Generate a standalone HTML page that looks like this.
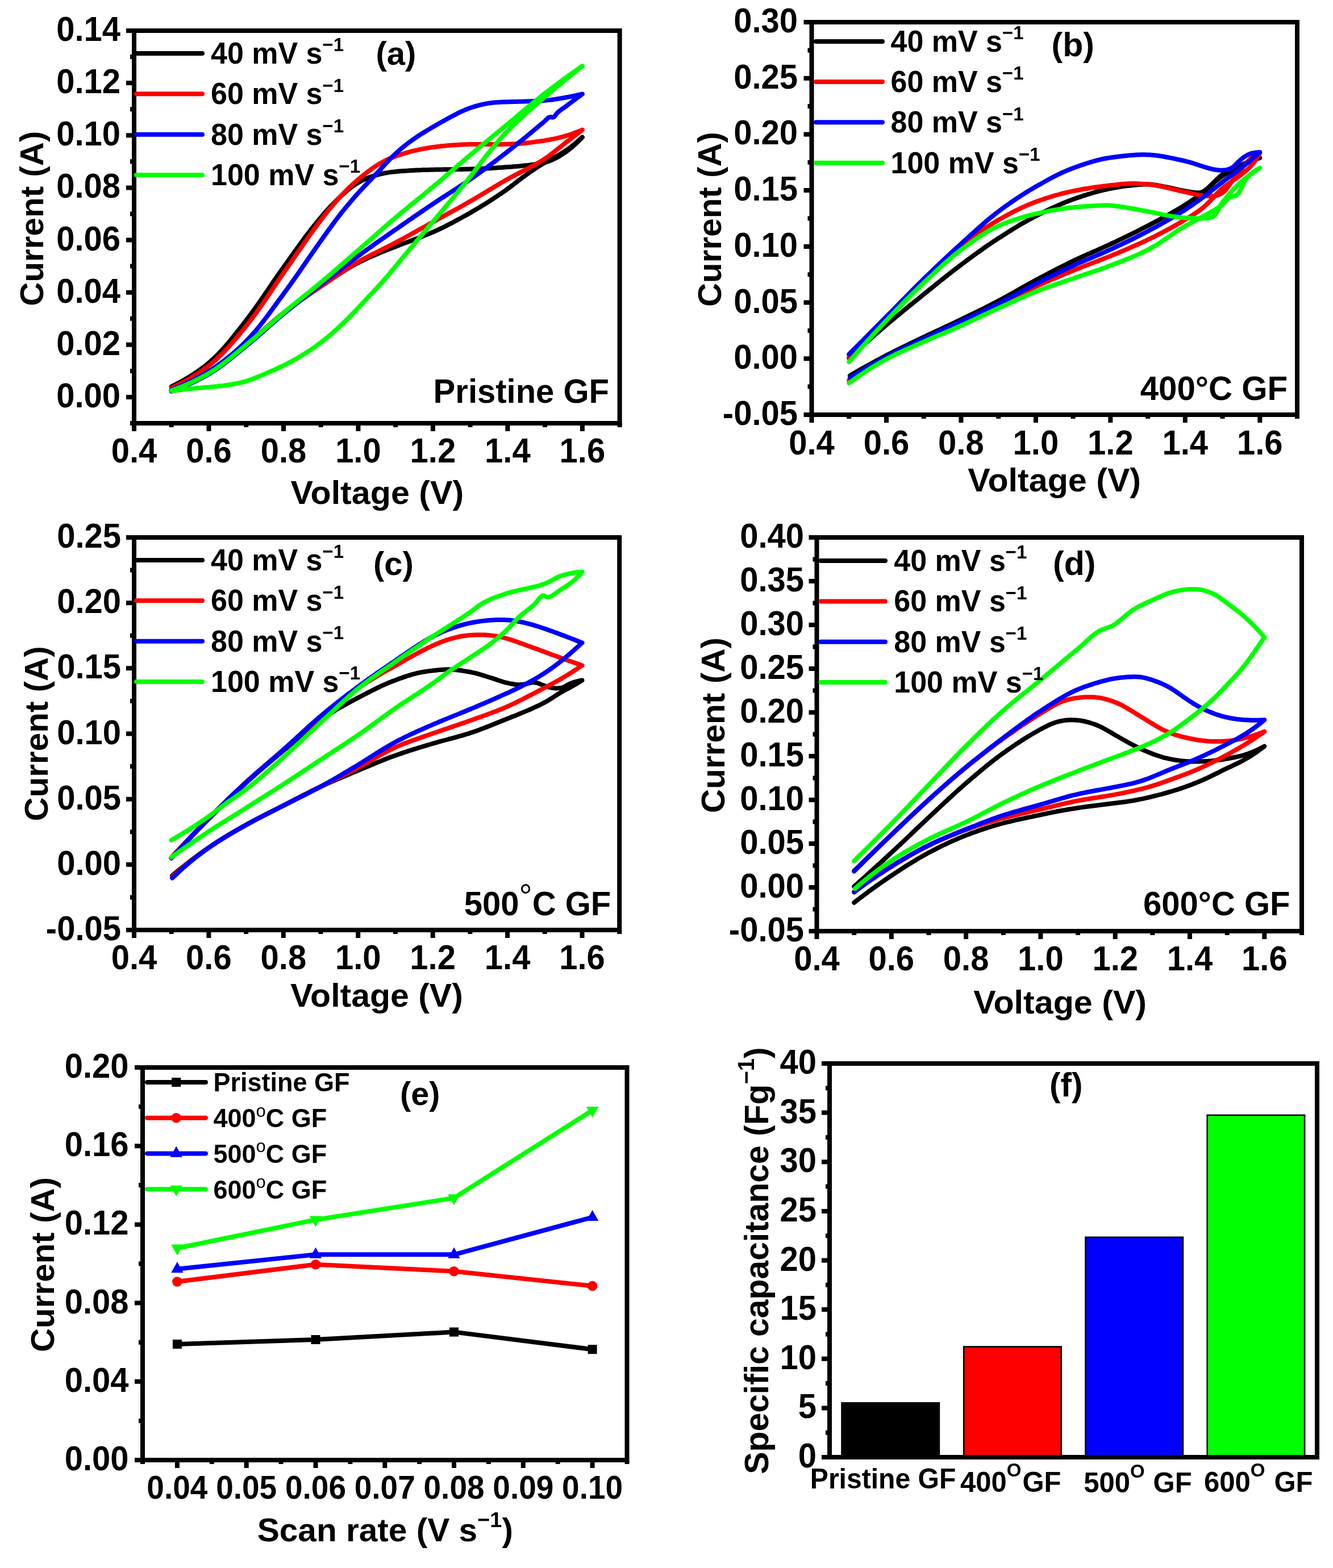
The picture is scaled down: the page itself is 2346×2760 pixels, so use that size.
<!DOCTYPE html>
<html><head><meta charset="utf-8"><title>Figure</title><style>html,body{margin:0;padding:0;background:#fff}svg{display:block;width:100vw;max-width:2346px;height:auto}</style></head><body>
<svg width="2346" height="2760" viewBox="0 0 2346 2760" font-family='"Liberation Sans", sans-serif' font-weight="bold" fill="#000">
<rect width="2346" height="2760" fill="#fff"/>
<polyline points="301.7,680.5 305.4,678.6 309,676.8 312.7,674.9 316.3,673 319.9,671 323.4,669 326.9,667 330.4,664.9 333.9,662.8 337.3,660.7 340.7,658.5 344,656.3 347.3,654.1 350.6,651.8 353.8,649.4 356.9,647.1 360.1,644.7 363.1,642.2 366.2,639.7 369.2,637.2 372.1,634.6 375,632 377.9,629.3 380.7,626.5 383.6,623.7 386.3,620.9 389.1,618 391.8,615 394.5,612 397.1,609 399.8,605.9 402.4,602.8 405,599.7 407.5,596.5 410.1,593.4 412.6,590.2 415.2,587 417.7,583.8 420.2,580.6 422.7,577.5 425.2,574.3 427.7,571.1 430.1,567.9 432.6,564.7 435,561.5 437.4,558.3 439.8,555.1 442.2,551.9 444.6,548.7 447,545.5 449.3,542.2 451.6,539 454,535.7 456.3,532.4 458.6,529.1 460.8,525.8 463.1,522.5 465.4,519.2 467.6,515.8 469.9,512.5 472.2,509.2 474.4,505.9 476.7,502.5 478.9,499.2 481.2,495.9 483.5,492.6 485.8,489.3 488,486 490.3,482.7 492.6,479.4 495,476.1 497.3,472.8 499.6,469.6 502,466.3 504.3,463 506.6,459.8 509,456.5 511.3,453.2 513.6,450 516,446.7 518.3,443.4 520.7,440.2 523,436.9 525.4,433.6 527.7,430.4 530.1,427.1 532.5,423.9 534.9,420.6 537.2,417.4 539.6,414.2 542.1,411 544.5,407.8 546.9,404.6 549.4,401.5 551.9,398.3 554.4,395.2 556.9,392.1 559.4,389 562,385.9 564.5,382.8 567.1,379.8 569.8,376.7 572.4,373.7 575.1,370.7 577.8,367.8 580.5,364.8 583.3,361.9 586.1,359 588.9,356.1 591.7,353.3 594.6,350.5 597.5,347.7 600.4,344.9 603.4,342.2 606.4,339.5 609.4,336.8 612.5,334.2 615.6,331.7 618.8,329.2 622,326.9 625.3,324.6 628.7,322.5 632.1,320.5 635.6,318.6 639.1,316.8 642.8,315.1 646.5,313.5 650.2,312.1 654,310.7 657.8,309.5 661.6,308.3 665.5,307.3 669.4,306.4 673.3,305.5 677.2,304.7 681.2,304.1 685.1,303.4 689.1,302.9 693.1,302.4 697.1,302 701.1,301.6 705.1,301.3 709.1,301 713.1,300.7 717.1,300.5 721.1,300.2 725.1,300 729.1,299.8 733.1,299.6 737.1,299.4 741.1,299.3 745.2,299.1 749.2,299 753.2,298.9 757.2,298.8 761.2,298.7 765.2,298.6 769.2,298.5 773.3,298.4 777.3,298.4 781.3,298.3 785.3,298.3 789.3,298.2 793.3,298.2 797.3,298.1 801.3,298.1 805.4,298 809.4,298 813.4,297.9 817.4,297.8 821.4,297.8 825.4,297.7 829.4,297.6 833.4,297.5 837.4,297.3 841.5,297.2 845.5,297 849.5,296.8 853.5,296.6 857.5,296.4 861.5,296.2 865.5,295.9 869.5,295.7 873.5,295.4 877.5,295.1 881.5,294.9 885.5,294.6 889.5,294.3 893.6,294 897.6,293.7 901.6,293.4 905.6,293 909.7,292.7 913.7,292.4 917.8,292 921.8,291.6 925.8,291.2 929.9,290.8 933.8,290.3 937.8,289.8 941.8,289.3 945.7,288.7 949.6,288 953.4,287.2 957.3,286.3 961.1,285.3 964.8,284.1 968.5,282.7 972.2,281.2 975.8,279.5 979.4,277.7 982.9,275.7 986.4,273.7 989.8,271.5 993.1,269.3 996.4,267 999.6,264.7 1002.8,262.2 1005.9,259.7 1008.9,257.1 1011.9,254.4 1014.8,251.6 1017.7,248.8 1020.6,245.9 1023.4,243 1024.9,241.5 1021.9,244.2 1018.9,246.9 1015.8,249.6 1012.8,252.2 1009.7,254.8 1006.6,257.3 1003.4,259.7 1000.2,262.1 996.9,264.4 993.6,266.6 990.2,268.8 986.8,270.8 983.4,272.8 979.9,274.8 976.3,276.7 972.8,278.6 969.3,280.5 965.7,282.4 962.2,284.3 958.7,286.3 955.3,288.3 951.8,290.4 948.4,292.5 945,294.7 941.7,296.9 938.4,299.1 935,301.4 931.7,303.7 928.5,306 925.2,308.4 922,310.7 918.8,313.2 915.6,315.6 912.4,318 909.2,320.5 906.1,322.9 902.9,325.4 899.7,327.8 896.5,330.2 893.2,332.6 890,334.9 886.7,337.2 883.4,339.5 880.1,341.8 876.8,344 873.4,346.3 870.1,348.5 866.7,350.7 863.3,352.8 860,355 856.6,357.2 853.2,359.3 849.7,361.4 846.3,363.5 842.9,365.6 839.4,367.6 836,369.7 832.5,371.7 829.1,373.7 825.6,375.7 822.1,377.7 818.6,379.7 815.1,381.6 811.6,383.6 808.1,385.5 804.5,387.4 801,389.3 797.5,391.2 793.9,393.1 790.3,394.9 786.7,396.8 783.2,398.6 779.6,400.3 775.9,402.1 772.3,403.8 768.7,405.5 765,407.1 761.4,408.8 757.7,410.3 754,411.9 750.3,413.4 746.6,414.9 742.9,416.4 739.1,417.8 735.4,419.3 731.6,420.7 727.9,422.1 724.1,423.5 720.3,424.9 716.6,426.3 712.8,427.7 709,429.1 705.3,430.6 701.5,432 697.8,433.5 694.1,434.9 690.3,436.4 686.6,437.9 682.9,439.4 679.1,440.9 675.4,442.4 671.6,443.9 667.9,445.4 664.2,447 660.5,448.5 656.8,450.1 653.1,451.7 649.4,453.3 645.8,454.9 642.2,456.6 638.6,458.3 635,460.1 631.4,461.9 627.9,463.8 624.4,465.6 620.9,467.6 617.4,469.6 614,471.6 610.6,473.7 607.2,475.8 603.8,477.9 600.4,480.1 597,482.3 593.6,484.5 590.3,486.7 586.9,489 583.6,491.2 580.3,493.5 576.9,495.7 573.6,498 570.3,500.3 567,502.5 563.6,504.8 560.3,507 557,509.3 553.7,511.5 550.3,513.8 547,516 543.7,518.3 540.4,520.6 537.1,522.9 533.8,525.2 530.5,527.5 527.2,529.8 523.9,532.1 520.7,534.5 517.4,536.8 514.2,539.2 511,541.6 507.8,544 504.6,546.4 501.4,548.9 498.3,551.3 495.1,553.8 492,556.3 488.9,558.9 485.9,561.5 482.8,564 479.8,566.7 476.7,569.3 473.7,571.9 470.7,574.6 467.7,577.3 464.7,579.9 461.7,582.6 458.7,585.3 455.7,587.9 452.7,590.6 449.6,593.2 446.6,595.9 443.6,598.5 440.5,601.1 437.4,603.7 434.4,606.3 431.3,608.8 428.2,611.4 425.1,614 422,616.6 418.9,619.1 415.7,621.7 412.6,624.3 409.5,626.9 406.4,629.4 403.2,631.9 400.1,634.5 396.9,636.9 393.7,639.4 390.5,641.8 387.3,644.2 384,646.5 380.7,648.7 377.4,651 374.1,653.1 370.7,655.2 367.3,657.2 363.9,659.2 360.5,661.2 357,663.1 353.5,665 349.9,666.8 346.4,668.6 342.8,670.4 339.2,672.1 335.5,673.8 331.8,675.4 328.2,677 324.4,678.6 320.7,680.2 316.9,681.7 313.2,683.1 309.4,684.6 305.6,686 301.7,687.4" fill="none" stroke="#000000" stroke-width="8" stroke-linejoin="round" stroke-linecap="round"/>
<polyline points="301.7,682.8 305.4,681.1 309.1,679.3 312.8,677.5 316.5,675.7 320.1,673.8 323.7,672 327.3,670 330.9,668.1 334.4,666.1 337.9,664 341.3,661.9 344.7,659.8 348,657.6 351.4,655.4 354.6,653.2 357.9,650.9 361.1,648.6 364.2,646.3 367.3,643.9 370.4,641.4 373.4,638.9 376.4,636.3 379.4,633.7 382.3,631 385.2,628.3 388.1,625.5 391,622.7 393.8,619.8 396.6,616.9 399.3,613.9 402.1,610.9 404.8,607.9 407.5,604.8 410.2,601.8 412.8,598.7 415.4,595.6 418.1,592.5 420.7,589.4 423.2,586.2 425.8,583.1 428.3,580 430.9,576.9 433.4,573.7 435.9,570.6 438.3,567.5 440.8,564.3 443.2,561.1 445.6,557.9 448,554.7 450.4,551.5 452.7,548.2 455,544.9 457.3,541.7 459.7,538.4 461.9,535.1 464.2,531.7 466.5,528.4 468.7,525.1 471,521.7 473.3,518.4 475.5,515.1 477.8,511.7 480,508.4 482.3,505 484.5,501.7 486.8,498.4 489,495 491.3,491.7 493.6,488.4 495.9,485.1 498.2,481.8 500.4,478.5 502.7,475.2 505,471.9 507.3,468.6 509.6,465.3 511.9,461.9 514.2,458.6 516.5,455.3 518.7,452 521,448.7 523.3,445.4 525.6,442.1 527.9,438.8 530.2,435.5 532.5,432.2 534.7,428.9 537.1,425.6 539.4,422.3 541.7,419 544,415.7 546.3,412.5 548.7,409.2 551,406 553.4,402.7 555.8,399.5 558.2,396.3 560.6,393.1 563,389.9 565.4,386.7 567.9,383.5 570.3,380.3 572.8,377.1 575.3,374 577.8,370.8 580.4,367.7 582.9,364.6 585.5,361.5 588.1,358.4 590.7,355.4 593.3,352.4 596,349.4 598.7,346.4 601.5,343.5 604.2,340.6 607,337.7 609.9,334.9 612.7,332 615.6,329.2 618.6,326.5 621.5,323.8 624.5,321.1 627.5,318.4 630.5,315.8 633.6,313.2 636.7,310.7 639.9,308.1 643,305.6 646.2,303.1 649.4,300.7 652.7,298.3 656,296 659.3,293.7 662.7,291.5 666.1,289.4 669.5,287.3 673,285.4 676.5,283.5 680.1,281.7 683.7,280 687.4,278.4 691.1,276.9 694.8,275.5 698.6,274.2 702.4,272.9 706.2,271.7 710.1,270.5 713.9,269.4 717.8,268.3 721.7,267.2 725.6,266.2 729.5,265.2 733.5,264.3 737.4,263.4 741.3,262.6 745.3,261.8 749.2,261.1 753.2,260.5 757.1,259.8 761.1,259.3 765.1,258.8 769,258.3 773,257.8 777,257.3 781,256.9 785,256.5 789,256.1 793,255.8 797,255.5 801,255.2 805.1,254.9 809.1,254.7 813.1,254.5 817.1,254.3 821.1,254.2 825.1,254.1 829.2,254 833.2,254 837.2,254 841.2,253.9 845.2,253.9 849.3,253.9 853.3,253.9 857.3,253.9 861.3,253.9 865.3,253.9 869.3,253.9 873.4,253.9 877.4,253.9 881.4,253.9 885.4,253.9 889.4,253.8 893.4,253.8 897.4,253.7 901.5,253.5 905.5,253.4 909.5,253.1 913.5,252.9 917.5,252.5 921.5,252.2 925.5,251.8 929.5,251.3 933.5,250.9 937.5,250.4 941.5,249.9 945.5,249.3 949.5,248.8 953.4,248.2 957.4,247.6 961.4,246.9 965.3,246.3 969.3,245.5 973.2,244.8 977.1,243.9 981.1,243.1 985,242.1 988.8,241.1 992.7,240.1 996.5,238.9 1000.4,237.7 1004.2,236.5 1008,235.2 1011.7,233.8 1015.5,232.3 1019.3,230.9 1023,229.3 1024.9,228.6 1021.7,231 1018.5,233.5 1015.3,235.9 1012.1,238.4 1008.9,240.8 1005.8,243.3 1002.6,245.8 999.4,248.2 996.2,250.7 993.1,253.2 989.9,255.7 986.8,258.2 983.6,260.7 980.5,263.2 977.4,265.7 974.2,268.2 971,270.7 967.8,273.1 964.6,275.5 961.3,277.8 958,280 954.7,282.2 951.3,284.3 947.9,286.3 944.4,288.3 940.9,290.3 937.4,292.2 933.9,294.1 930.3,296 926.7,297.8 923.1,299.7 919.6,301.5 916,303.4 912.4,305.2 908.8,307.1 905.2,308.9 901.7,310.8 898.1,312.7 894.6,314.7 891.1,316.6 887.6,318.6 884.1,320.6 880.7,322.7 877.2,324.7 873.8,326.8 870.3,328.8 866.9,330.9 863.4,333 860,335 856.6,337.1 853.1,339.2 849.7,341.3 846.2,343.3 842.8,345.4 839.3,347.4 835.9,349.5 832.4,351.5 828.9,353.5 825.4,355.5 822,357.5 818.5,359.5 815,361.5 811.5,363.5 808,365.4 804.4,367.4 800.9,369.3 797.4,371.2 793.9,373.2 790.4,375.1 786.9,377.1 783.3,379 779.8,380.9 776.3,382.8 772.8,384.8 769.2,386.7 765.7,388.7 762.2,390.6 758.7,392.6 755.2,394.5 751.7,396.5 748.2,398.4 744.7,400.4 741.2,402.3 737.6,404.3 734.1,406.3 730.6,408.2 727.1,410.2 723.6,412.1 720.1,414.1 716.6,416 713.1,417.9 709.5,419.9 706,421.8 702.5,423.7 698.9,425.6 695.4,427.5 691.8,429.3 688.2,431.2 684.7,433 681.1,434.8 677.5,436.6 673.9,438.4 670.3,440.2 666.7,442 663.1,443.8 659.5,445.5 655.9,447.4 652.3,449.2 648.7,451 645.2,452.9 641.6,454.8 638.1,456.7 634.6,458.6 631.1,460.6 627.7,462.6 624.2,464.6 620.8,466.7 617.4,468.8 614,470.9 610.6,473.1 607.2,475.3 603.8,477.5 600.5,479.7 597.1,481.9 593.8,484.1 590.5,486.4 587.1,488.7 583.8,490.9 580.5,493.2 577.2,495.5 573.9,497.8 570.5,500 567.2,502.3 563.9,504.6 560.6,506.8 557.3,509.1 554,511.4 550.6,513.7 547.3,515.9 544,518.2 540.7,520.5 537.4,522.8 534.1,525.1 530.8,527.4 527.5,529.7 524.2,532 520.9,534.3 517.7,536.7 514.4,539.1 511.2,541.4 508,543.8 504.8,546.3 501.6,548.7 498.5,551.2 495.3,553.7 492.2,556.2 489.1,558.7 486,561.3 483,563.9 479.9,566.5 476.9,569.1 473.9,571.8 470.9,574.4 467.8,577.1 464.8,579.8 461.8,582.5 458.8,585.1 455.8,587.8 452.8,590.5 449.8,593.1 446.7,595.7 443.7,598.4 440.6,601 437.6,603.6 434.5,606.1 431.4,608.7 428.3,611.3 425.2,613.9 422.1,616.5 419,619 415.9,621.6 412.7,624.2 409.6,626.8 406.5,629.3 403.3,631.9 400.2,634.4 397,636.9 393.8,639.3 390.6,641.7 387.3,644.1 384.1,646.4 380.8,648.7 377.5,650.9 374.2,653.1 370.8,655.2 367.4,657.2 364,659.2 360.5,661.2 357,663.1 353.5,664.9 350,666.8 346.4,668.6 342.8,670.3 339.2,672.1 335.6,673.8 331.9,675.4 328.2,677 324.5,678.6 320.7,680.2 317,681.7 313.2,683.1 309.4,684.6 305.6,686 301.7,687.4" fill="none" stroke="#ff0000" stroke-width="8" stroke-linejoin="round" stroke-linecap="round"/>
<polyline points="301.7,686 305.5,684.5 309.3,683 313,681.4 316.8,679.9 320.5,678.2 324.2,676.6 327.8,674.9 331.5,673.2 335.1,671.5 338.7,669.7 342.3,667.8 345.8,666 349.4,664.1 352.8,662.2 356.3,660.2 359.7,658.2 363.2,656.2 366.5,654.1 369.9,652 373.3,649.9 376.6,647.7 379.9,645.4 383.2,643.1 386.4,640.8 389.7,638.4 392.9,636 396.1,633.5 399.3,631 402.5,628.4 405.6,625.9 408.7,623.3 411.7,620.6 414.8,618 417.8,615.3 420.7,612.6 423.7,609.8 426.6,607.1 429.4,604.3 432.2,601.5 435,598.7 437.8,595.8 440.5,592.9 443.1,590 445.8,587 448.4,584 451,581 453.5,577.9 456.1,574.8 458.6,571.7 461.1,568.5 463.6,565.3 466,562.1 468.5,558.9 470.9,555.7 473.3,552.5 475.7,549.2 478.1,545.9 480.5,542.7 482.9,539.4 485.3,536.1 487.6,532.9 490,529.6 492.4,526.4 494.8,523.1 497.2,519.9 499.5,516.6 501.9,513.4 504.3,510.2 506.6,506.9 509,503.7 511.3,500.4 513.6,497.1 515.9,493.9 518.3,490.6 520.6,487.3 522.9,484 525.2,480.7 527.5,477.4 529.7,474.1 532,470.8 534.3,467.5 536.6,464.2 538.9,460.9 541.1,457.6 543.4,454.3 545.7,451 548,447.7 550.3,444.4 552.6,441.1 554.9,437.8 557.2,434.5 559.5,431.3 561.8,428 564.1,424.7 566.5,421.4 568.8,418.2 571.1,414.9 573.5,411.6 575.8,408.4 578.1,405.1 580.5,401.8 582.8,398.6 585.2,395.4 587.6,392.1 590,388.9 592.4,385.7 594.8,382.5 597.3,379.3 599.7,376.2 602.2,373 604.7,369.9 607.3,366.8 609.8,363.7 612.4,360.6 615,357.5 617.6,354.5 620.2,351.4 622.8,348.4 625.4,345.4 628.1,342.4 630.8,339.4 633.5,336.4 636.2,333.5 638.9,330.5 641.7,327.6 644.4,324.7 647.2,321.8 650,318.9 652.8,316 655.5,313.1 658.3,310.2 661.1,307.3 663.8,304.4 666.6,301.4 669.3,298.5 672,295.5 674.7,292.5 677.4,289.6 680.2,286.6 682.9,283.7 685.7,280.8 688.5,277.9 691.3,275.1 694.2,272.3 697.1,269.6 700.1,266.9 703.1,264.3 706.1,261.6 709.2,259.1 712.3,256.6 715.5,254.1 718.7,251.6 721.9,249.2 725.1,246.9 728.4,244.5 731.7,242.3 735,240 738.4,237.9 741.8,235.7 745.2,233.6 748.6,231.5 752,229.4 755.5,227.4 758.9,225.3 762.4,223.3 765.9,221.3 769.3,219.2 772.8,217.2 776.3,215.3 779.8,213.3 783.3,211.4 786.8,209.4 790.4,207.5 793.9,205.6 797.5,203.7 801,201.8 804.6,200 808.2,198.2 811.8,196.4 815.5,194.8 819.2,193.2 822.9,191.7 826.6,190.3 830.4,189 834.2,187.8 838,186.7 841.9,185.6 845.8,184.6 849.7,183.7 853.6,182.9 857.6,182.1 861.6,181.5 865.5,181 869.5,180.5 873.5,180.2 877.5,179.9 881.5,179.7 885.5,179.5 889.5,179.4 893.5,179.3 897.5,179.2 901.5,179.1 905.5,179 909.6,178.9 913.6,178.8 917.6,178.7 921.6,178.6 925.6,178.4 929.6,178.3 933.7,178.2 937.7,178 941.7,177.8 945.7,177.6 949.7,177.4 953.7,177.2 957.7,176.9 961.7,176.5 965.7,176.1 969.6,175.7 973.6,175.2 977.6,174.6 981.6,174 985.5,173.4 989.5,172.7 993.4,172 997.4,171.3 1001.3,170.5 1005.3,169.8 1009.2,168.9 1013.1,168.1 1017,167.2 1020.9,166.4 1024.9,165.5 1024.9,165.5 1021.6,167.9 1018.4,170.3 1015.2,172.7 1012,175.1 1008.8,177.5 1005.6,179.9 1002.4,182.4 999.2,184.8 996,187.2 992.7,189.5 989.3,191.8 986.1,194.2 982.9,196.7 980.1,199.5 977.5,202.8 975.1,205.9 972.3,206.7 969,206 965.7,206.7 962.6,209.3 959.6,212.3 956.6,215.1 953.5,217.7 950.4,220.2 947.3,222.8 944.3,225.4 941.2,228 938.1,230.5 935,233.1 931.9,235.7 928.8,238.2 925.8,240.8 922.7,243.3 919.6,245.9 916.4,248.4 913.3,250.9 910.2,253.5 907.1,256 904,258.5 900.8,261 897.7,263.5 894.5,265.9 891.4,268.4 888.2,270.9 885,273.3 881.8,275.8 878.7,278.2 875.5,280.6 872.3,283.1 869.1,285.5 865.9,287.9 862.7,290.3 859.4,292.7 856.2,295.1 853,297.5 849.7,299.9 846.5,302.2 843.3,304.6 840,306.9 836.7,309.2 833.5,311.6 830.2,313.9 826.9,316.2 823.6,318.4 820.3,320.7 817,323 813.7,325.2 810.3,327.4 807,329.6 803.6,331.8 800.2,334 796.9,336.2 793.5,338.3 790.1,340.5 786.8,342.7 783.4,344.9 780,347 776.6,349.2 773.3,351.4 769.9,353.6 766.6,355.8 763.2,358.1 759.9,360.3 756.6,362.5 753.3,364.8 750,367 746.6,369.3 743.3,371.6 740,373.8 736.7,376.1 733.4,378.3 730.1,380.6 726.8,382.9 723.5,385.2 720.2,387.4 716.9,389.7 713.6,392 710.3,394.3 707,396.6 703.7,398.9 700.4,401.2 697.1,403.5 693.8,405.7 690.5,408 687.2,410.3 683.9,412.6 680.6,414.9 677.4,417.2 674.1,419.5 670.8,421.8 667.5,424.1 664.2,426.4 660.9,428.7 657.7,431 654.4,433.4 651.1,435.7 647.8,438 644.6,440.4 641.3,442.7 638.1,445 634.8,447.4 631.6,449.8 628.4,452.2 625.2,454.5 621.9,456.9 618.7,459.3 615.5,461.7 612.3,464.2 609.1,466.6 605.9,469 602.7,471.4 599.6,473.9 596.4,476.3 593.2,478.8 590,481.2 586.8,483.7 583.7,486.1 580.5,488.6 577.3,491 574.2,493.5 571,496 567.8,498.4 564.6,500.9 561.5,503.3 558.3,505.8 555.1,508.2 551.9,510.7 548.8,513.1 545.6,515.6 542.4,518 539.2,520.5 536.1,523 532.9,525.4 529.7,527.9 526.6,530.4 523.4,532.8 520.3,535.3 517.1,537.8 514,540.3 510.9,542.8 507.7,545.3 504.6,547.8 501.5,550.4 498.4,552.9 495.3,555.5 492.3,558 489.2,560.6 486.2,563.3 483.1,565.9 480.1,568.5 477.1,571.2 474.1,573.8 471.1,576.5 468.1,579.2 465.1,581.8 462.1,584.5 459.1,587.2 456,589.8 453,592.4 450,595.1 446.9,597.7 443.9,600.3 440.8,602.9 437.7,605.4 434.6,607.9 431.5,610.5 428.4,613 425.3,615.5 422.2,618.1 419,620.6 415.9,623.2 412.8,625.8 409.6,628.3 406.5,630.8 403.3,633.4 400.1,635.9 396.9,638.3 393.7,640.7 390.5,643.1 387.3,645.5 384,647.8 380.7,650.1 377.4,652.3 374,654.4 370.7,656.5 367.3,658.5 363.8,660.5 360.4,662.4 356.9,664.3 353.4,666.2 349.9,668 346.3,669.8 342.7,671.6 339.1,673.3 335.5,675.1 331.8,676.7 328.1,678.4 324.4,680 320.7,681.5 316.9,683.1 313.2,684.6 309.4,686 305.6,687.4 301.7,688.8" fill="none" stroke="#0000ff" stroke-width="8" stroke-linejoin="round" stroke-linecap="round"/>
<polyline points="301.7,687.4 305.5,686 309.4,684.6 313.1,683.1 316.9,681.7 320.7,680.2 324.4,678.6 328.1,677.1 331.8,675.4 335.5,673.8 339.1,672.1 342.7,670.4 346.3,668.6 349.9,666.8 353.4,665 356.9,663.1 360.4,661.2 363.9,659.3 367.3,657.3 370.7,655.2 374,653.1 377.4,651 380.7,648.8 383.9,646.5 387.2,644.2 390.4,641.8 393.6,639.4 396.8,637 400,634.5 403.1,632 406.3,629.5 409.4,626.9 412.5,624.4 415.7,621.8 418.8,619.2 421.9,616.6 425,614.1 428.1,611.5 431.2,608.9 434.3,606.4 437.3,603.8 440.4,601.2 443.5,598.6 446.6,596.1 449.6,593.5 452.6,590.8 455.7,588.2 458.7,585.6 461.7,583 464.7,580.3 467.8,577.7 470.8,575 473.8,572.4 476.8,569.7 479.8,567.1 482.8,564.5 485.9,561.8 488.9,559.2 492,556.6 495,554 498.1,551.4 501.2,548.9 504.2,546.3 507.3,543.7 510.4,541.2 513.5,538.7 516.6,536.1 519.8,533.6 522.9,531.1 526,528.6 529.1,526.1 532.2,523.5 535.4,521 538.5,518.5 541.6,516 544.7,513.5 547.8,511 551,508.4 554.1,505.9 557.2,503.3 560.2,500.8 563.3,498.2 566.4,495.7 569.5,493.1 572.5,490.5 575.6,487.9 578.7,485.3 581.7,482.7 584.8,480.1 587.8,477.5 590.8,474.9 593.9,472.3 596.9,469.6 599.9,467 603,464.4 606,461.8 609,459.1 612,456.5 615.1,453.9 618.1,451.2 621.1,448.6 624.1,446 627.2,443.3 630.2,440.7 633.2,438.1 636.2,435.4 639.2,432.8 642.2,430.1 645.3,427.5 648.3,424.8 651.3,422.2 654.3,419.5 657.3,416.9 660.3,414.2 663.3,411.6 666.3,408.9 669.3,406.3 672.3,403.6 675.3,401 678.3,398.3 681.4,395.7 684.4,393.1 687.4,390.4 690.5,387.8 693.5,385.2 696.6,382.6 699.6,380.1 702.7,377.5 705.8,374.9 708.9,372.4 712,369.8 715.1,367.3 718.2,364.7 721.3,362.2 724.4,359.7 727.5,357.1 730.6,354.6 733.7,352.1 736.8,349.6 740,347 743.1,344.5 746.2,342 749.3,339.4 752.4,336.9 755.5,334.3 758.5,331.8 761.6,329.2 764.7,326.6 767.8,324 770.8,321.5 773.9,318.9 776.9,316.3 780,313.7 783,311 786.1,308.4 789.1,305.8 792.2,303.2 795.2,300.6 798.2,298 801.3,295.4 804.3,292.7 807.3,290.1 810.4,287.5 813.4,284.9 816.5,282.3 819.5,279.7 822.6,277.1 825.7,274.5 828.7,272 831.8,269.4 834.9,266.8 837.9,264.2 841,261.7 844.1,259.1 847.2,256.5 850.3,254 853.4,251.4 856.5,248.9 859.6,246.3 862.6,243.8 865.7,241.2 868.8,238.7 871.9,236.1 875,233.6 878.1,231 881.2,228.5 884.3,225.9 887.4,223.4 890.5,220.8 893.6,218.3 896.7,215.7 899.7,213.1 902.8,210.6 905.9,208 909,205.4 912,202.8 915.1,200.2 918.2,197.7 921.2,195.1 924.3,192.5 927.4,189.9 930.5,187.4 933.6,184.8 936.6,182.2 939.7,179.7 942.8,177.2 946,174.6 949.1,172.1 952.2,169.6 955.4,167.1 958.5,164.7 961.7,162.2 964.8,159.8 968,157.3 971.2,154.9 974.4,152.5 977.6,150.1 980.8,147.7 984,145.3 987.3,142.9 990.5,140.6 993.7,138.2 997,135.8 1000.2,133.5 1003.5,131.2 1006.8,128.8 1010.1,126.5 1013.3,124.2 1016.6,121.9 1019.9,119.6 1023.2,117.3 1024.9,116.2 1021.7,118.7 1018.6,121.2 1015.5,123.7 1012.3,126.2 1009.2,128.8 1006.1,131.3 1003,133.8 999.9,136.4 996.7,138.9 993.6,141.4 990.6,144 987.5,146.6 984.4,149.1 981.3,151.7 978.2,154.3 975.2,156.9 972.1,159.5 969,162.1 966,164.7 962.9,167.3 959.9,169.9 956.8,172.5 953.8,175.1 950.8,177.7 947.7,180.4 944.7,183 941.6,185.6 938.6,188.2 935.5,190.9 932.5,193.5 929.5,196.2 926.5,198.8 923.5,201.5 920.5,204.2 917.5,206.9 914.5,209.6 911.6,212.3 908.7,215.1 905.8,217.9 902.9,220.6 900.1,223.5 897.2,226.3 894.4,229.2 891.7,232 888.9,235 886.2,237.9 883.6,240.9 880.9,243.9 878.3,246.9 875.7,250 873.1,253.1 870.5,256.1 867.9,259.2 865.4,262.3 862.8,265.5 860.3,268.6 857.8,271.7 855.3,274.9 852.9,278 850.4,281.2 848,284.4 845.5,287.6 843.1,290.8 840.7,294 838.3,297.2 835.8,300.4 833.4,303.6 830.9,306.7 828.4,309.9 826,313 823.5,316.2 820.9,319.3 818.4,322.4 815.9,325.6 813.4,328.7 810.8,331.8 808.3,334.9 805.7,338 803.1,341 800.6,344.1 798,347.2 795.4,350.3 792.9,353.4 790.3,356.5 787.7,359.6 785.2,362.6 782.6,365.7 780,368.8 777.4,371.9 774.8,374.9 772.2,378 769.7,381.1 767.1,384.1 764.5,387.2 761.9,390.3 759.3,393.4 756.7,396.4 754.2,399.5 751.6,402.6 749,405.6 746.4,408.7 743.8,411.8 741.2,414.8 738.6,417.9 736,421 733.4,424 730.9,427.1 728.3,430.2 725.7,433.2 723.1,436.3 720.5,439.4 717.9,442.5 715.4,445.5 712.8,448.6 710.2,451.7 707.6,454.8 705.1,457.9 702.5,461 700,464.1 697.4,467.2 694.9,470.3 692.3,473.4 689.8,476.5 687.2,479.6 684.7,482.6 682.1,485.7 679.5,488.8 676.8,491.8 674.2,494.8 671.5,497.8 668.8,500.8 666.1,503.7 663.4,506.7 660.7,509.6 657.9,512.6 655.2,515.5 652.4,518.4 649.7,521.3 646.9,524.3 644.2,527.2 641.4,530.1 638.7,533.1 636,536 633.2,538.9 630.5,541.9 627.7,544.8 624.9,547.7 622.2,550.6 619.4,553.5 616.6,556.4 613.8,559.3 610.9,562.1 608.1,564.9 605.2,567.7 602.3,570.5 599.4,573.2 596.5,575.9 593.5,578.6 590.5,581.3 587.5,584 584.5,586.7 581.4,589.3 578.4,591.9 575.3,594.5 572.2,597 569,599.5 565.9,602 562.7,604.4 559.5,606.8 556.2,609.2 553,611.5 549.7,613.8 546.4,616 543,618.2 539.7,620.4 536.3,622.6 532.9,624.7 529.4,626.8 526,628.8 522.5,630.9 519,632.8 515.5,634.8 512,636.7 508.4,638.6 504.8,640.4 501.3,642.2 497.7,644 494,645.7 490.4,647.4 486.8,649.1 483.1,650.8 479.4,652.4 475.8,654 472.1,655.6 468.4,657.2 464.7,658.8 461,660.4 457.2,661.9 453.5,663.5 449.8,665 446,666.5 442.3,667.9 438.5,669.2 434.7,670.4 430.9,671.6 427,672.7 423.2,673.6 419.3,674.5 415.4,675.3 411.4,676 407.5,676.7 403.5,677.3 399.6,677.9 395.6,678.5 391.6,679 387.6,679.4 383.6,679.9 379.6,680.3 375.6,680.7 371.6,681.1 367.6,681.5 363.6,681.8 359.6,682.1 355.6,682.5 351.6,682.8 347.6,683.1 343.6,683.5 339.6,683.8 335.6,684.2 331.6,684.6 327.6,685.1 323.6,685.5 319.7,686 315.7,686.5 311.7,687 307.7,687.5 303.7,688.1" fill="none" stroke="#00ff00" stroke-width="8" stroke-linejoin="round" stroke-linecap="round"/>
<rect x="236" y="54" width="854.6" height="691" fill="none" stroke="#000" stroke-width="8"/>
<text transform="translate(212 716.93) scale(1 1.045)" font-size="58" text-anchor="end">0.00</text>
<text transform="translate(212 624.8) scale(1 1.045)" font-size="58" text-anchor="end">0.02</text>
<text transform="translate(212 532.67) scale(1 1.045)" font-size="58" text-anchor="end">0.04</text>
<text transform="translate(212 440.53) scale(1 1.045)" font-size="58" text-anchor="end">0.06</text>
<text transform="translate(212 348.4) scale(1 1.045)" font-size="58" text-anchor="end">0.08</text>
<text transform="translate(212 256.27) scale(1 1.045)" font-size="58" text-anchor="end">0.10</text>
<text transform="translate(212 164.13) scale(1 1.045)" font-size="58" text-anchor="end">0.12</text>
<text transform="translate(212 72) scale(1 1.045)" font-size="58" text-anchor="end">0.14</text>
<path d="M236 698.9h-14M236 606.8h-14M236 514.7h-14M236 422.5h-14M236 330.4h-14M236 238.3h-14M236 146.1h-14M236 54h-14M236 745h-7M236 652.9h-7M236 560.7h-7M236 468.6h-7M236 376.5h-7M236 284.3h-7M236 192.2h-7M236 100.1h-7" stroke="#000" stroke-width="8" fill="none"/>
<text transform="translate(236 814) scale(1 1.045)" font-size="58" text-anchor="middle">0.4</text>
<text transform="translate(367.48 814) scale(1 1.045)" font-size="58" text-anchor="middle">0.6</text>
<text transform="translate(498.95 814) scale(1 1.045)" font-size="58" text-anchor="middle">0.8</text>
<text transform="translate(630.43 814) scale(1 1.045)" font-size="58" text-anchor="middle">1.0</text>
<text transform="translate(761.91 814) scale(1 1.045)" font-size="58" text-anchor="middle">1.2</text>
<text transform="translate(893.38 814) scale(1 1.045)" font-size="58" text-anchor="middle">1.4</text>
<text transform="translate(1024.86 814) scale(1 1.045)" font-size="58" text-anchor="middle">1.6</text>
<path d="M236 745v14M367.5 745v14M499 745v14M630.4 745v14M761.9 745v14M893.4 745v14M1024.9 745v14M301.7 745v7M433.2 745v7M564.7 745v7M696.2 745v7M827.6 745v7M959.1 745v7M1090.6 745v7" stroke="#000" stroke-width="8" fill="none"/>
<line x1="240" y1="94" x2="356" y2="94" stroke="#000000" stroke-width="8" stroke-linecap="round"/>
<text transform="translate(371 112) scale(1 1.03)" font-size="52">40 mV s<tspan font-size="33" dy="-21">&#8722;1</tspan></text>
<line x1="240" y1="165.3" x2="356" y2="165.3" stroke="#ff0000" stroke-width="8" stroke-linecap="round"/>
<text transform="translate(371 183.3) scale(1 1.03)" font-size="52">60 mV s<tspan font-size="33" dy="-21">&#8722;1</tspan></text>
<line x1="240" y1="236.7" x2="356" y2="236.7" stroke="#0000ff" stroke-width="8" stroke-linecap="round"/>
<text transform="translate(371 254.7) scale(1 1.03)" font-size="52">80 mV s<tspan font-size="33" dy="-21">&#8722;1</tspan></text>
<line x1="240" y1="308" x2="356" y2="308" stroke="#00ff00" stroke-width="8" stroke-linecap="round"/>
<text transform="translate(371 326) scale(1 1.03)" font-size="52">100 mV s<tspan font-size="33" dy="-21">&#8722;1</tspan></text>
<text transform="translate(663.8 887) scale(1 0.985)" font-size="59.2" text-anchor="middle">Voltage (V)</text>
<text transform="translate(75.5 384.7) rotate(-90) scale(1 0.99)" font-size="58.4" text-anchor="middle">Current (A)</text>
<text transform="translate(661.5 114)" font-size="58">(a)</text>
<text transform="translate(1072 708.8) scale(1 1.02)" font-size="58" text-anchor="end">Pristine GF</text>
<polyline points="1494.2,630.3 1497.2,627.6 1500.2,624.9 1503.1,622.2 1506.1,619.5 1509.1,616.8 1512.1,614.1 1515,611.4 1518,608.7 1521,606 1524,603.4 1527,600.7 1530,598 1533.1,595.4 1536.1,592.7 1539.1,590.1 1542.1,587.4 1545.2,584.8 1548.2,582.2 1551.2,579.6 1554.3,576.9 1557.3,574.3 1560.4,571.7 1563.4,569.1 1566.5,566.5 1569.6,564 1572.7,561.4 1575.7,558.8 1578.8,556.2 1581.9,553.7 1585,551.1 1588.1,548.6 1591.2,546 1594.4,543.5 1597.5,541 1600.6,538.4 1603.7,535.9 1606.8,533.4 1609.9,530.8 1613.1,528.3 1616.2,525.8 1619.3,523.3 1622.4,520.7 1625.6,518.2 1628.7,515.7 1631.8,513.2 1634.9,510.7 1638.1,508.1 1641.2,505.6 1644.3,503.1 1647.4,500.5 1650.6,498 1653.7,495.5 1656.8,493 1660,490.5 1663.1,488 1666.3,485.5 1669.4,483 1672.6,480.5 1675.7,478 1678.9,475.6 1682.1,473.1 1685.3,470.7 1688.5,468.3 1691.7,465.9 1694.9,463.5 1698.1,461.1 1701.3,458.7 1704.6,456.3 1707.8,453.9 1711,451.5 1714.3,449.1 1717.6,446.8 1720.8,444.4 1724.1,442.1 1727.4,439.8 1730.6,437.4 1733.9,435.1 1737.2,432.8 1740.5,430.6 1743.9,428.3 1747.2,426.1 1750.5,423.8 1753.9,421.6 1757.2,419.4 1760.6,417.3 1764,415.1 1767.4,412.9 1770.7,410.8 1774.2,408.6 1777.6,406.5 1781,404.3 1784.4,402.2 1787.8,400.1 1791.3,398.1 1794.7,396 1798.2,394 1801.7,392 1805.2,390 1808.7,388 1812.2,386.1 1815.7,384.2 1819.3,382.3 1822.8,380.4 1826.4,378.6 1829.9,376.8 1833.5,375 1837.1,373.2 1840.7,371.4 1844.4,369.6 1848,367.9 1851.7,366.2 1855.3,364.5 1859,362.8 1862.7,361.2 1866.4,359.6 1870.1,358 1873.8,356.5 1877.5,355 1881.2,353.6 1885,352.2 1888.7,350.8 1892.5,349.5 1896.3,348.1 1900.1,346.9 1903.9,345.6 1907.7,344.3 1911.6,343.1 1915.4,341.9 1919.3,340.7 1923.1,339.5 1927,338.4 1930.9,337.4 1934.8,336.3 1938.7,335.3 1942.6,334.4 1946.5,333.5 1950.4,332.6 1954.3,331.8 1958.3,331.1 1962.2,330.4 1966.2,329.7 1970.1,329 1974.1,328.4 1978.1,327.9 1982.1,327.4 1986.1,326.9 1990.1,326.5 1994.1,326.1 1998.1,325.7 2002.1,325.3 2006.1,325 2010.1,324.7 2014.1,324.5 2018.1,324.5 2022.1,324.5 2026.1,324.8 2030.1,325.2 2034,325.7 2038,326.4 2042,327.1 2045.9,327.9 2049.9,328.6 2053.8,329.4 2057.8,330.2 2061.7,331.1 2065.6,332 2069.5,332.9 2073.5,333.8 2077.4,334.6 2081.3,335.4 2085.3,336.2 2089.3,336.9 2093.4,337.6 2097.4,338.3 2101.4,338.8 2105.4,339.2 2109.2,339.3 2112.8,338.9 2116.3,337.8 2119.6,336 2122.9,333.5 2126,330.8 2129.1,327.9 2132.2,325 2135.1,322.1 2138,319.3 2140.9,316.4 2143.8,313.6 2146.8,310.9 2149.8,308.4 2153,306 2156.3,303.9 2159.7,301.9 2163.2,299.9 2166.8,298.1 2170.5,296.3 2174.2,294.6 2177.9,293 2181.6,291.4 2185.3,289.8 2189,288.3 2192.7,286.7 2196.4,285.3 2200.2,283.8 2203.9,282.4 2207.7,281.1 2211.5,279.8 2215.4,278.5 2217.3,277.9 2213.5,279.3 2209.8,280.8 2206,282.3 2202.3,283.8 2198.6,285.3 2194.9,286.9 2191.3,288.6 2187.6,290.2 2184,291.9 2180.4,293.7 2176.7,295.4 2173.1,297.2 2169.6,299.1 2166,301 2162.5,302.9 2159,304.9 2155.6,307 2152.3,309.2 2149,311.4 2145.9,313.8 2142.7,316.3 2139.7,318.9 2136.7,321.6 2133.7,324.3 2130.7,327 2127.7,329.7 2124.7,332.4 2121.6,335 2118.5,337.5 2115.3,340 2112.1,342.4 2108.9,344.8 2105.6,347.2 2102.4,349.5 2099.1,351.8 2095.7,354.1 2092.4,356.3 2089.1,358.5 2085.7,360.6 2082.3,362.8 2078.9,364.9 2075.5,366.9 2072,369 2068.6,371 2065.1,373 2061.6,375 2058.1,377 2054.6,378.9 2051.1,380.9 2047.5,382.8 2044,384.7 2040.4,386.6 2036.9,388.5 2033.3,390.4 2029.8,392.2 2026.2,394.1 2022.7,396 2019.1,397.8 2015.6,399.7 2012,401.5 2008.4,403.3 2004.9,405.2 2001.3,407 1997.7,408.8 1994.1,410.6 1990.5,412.3 1986.9,414.1 1983.3,415.9 1979.7,417.6 1976.1,419.4 1972.4,421.1 1968.8,422.8 1965.2,424.6 1961.6,426.3 1957.9,428 1954.3,429.7 1950.7,431.4 1947,433.1 1943.4,434.7 1939.7,436.4 1936.1,438 1932.4,439.6 1928.7,441.3 1925,442.9 1921.4,444.5 1917.7,446.1 1914,447.7 1910.3,449.4 1906.7,451 1903,452.6 1899.4,454.3 1895.7,456 1892.1,457.7 1888.5,459.4 1884.9,461.2 1881.3,462.9 1877.7,464.7 1874.1,466.5 1870.5,468.3 1866.9,470.1 1863.3,471.9 1859.7,473.7 1856.2,475.6 1852.6,477.4 1849.1,479.3 1845.5,481.1 1841.9,483 1838.4,484.9 1834.8,486.8 1831.3,488.6 1827.8,490.5 1824.2,492.4 1820.7,494.3 1817.2,496.2 1813.6,498.2 1810.1,500.1 1806.6,502.1 1803.1,504 1799.6,506 1796.1,508 1792.6,509.9 1789.1,511.9 1785.7,513.9 1782.2,515.9 1778.7,517.8 1775.2,519.8 1771.6,521.8 1768.1,523.7 1764.6,525.6 1761.1,527.5 1757.5,529.4 1754,531.2 1750.4,533.1 1746.9,534.9 1743.3,536.8 1739.7,538.6 1736.1,540.4 1732.6,542.2 1729,544 1725.4,545.8 1721.8,547.6 1718.2,549.3 1714.6,551.1 1711,552.9 1707.4,554.6 1703.7,556.4 1700.1,558.2 1696.5,559.9 1692.9,561.7 1689.3,563.4 1685.7,565.1 1682.1,566.9 1678.4,568.6 1674.8,570.3 1671.2,572 1667.5,573.7 1663.9,575.4 1660.3,577.1 1656.6,578.8 1653,580.5 1649.4,582.2 1645.7,583.9 1642.1,585.6 1638.5,587.3 1634.8,589 1631.2,590.7 1627.6,592.5 1624,594.2 1620.3,595.9 1616.7,597.7 1613.1,599.4 1609.5,601.1 1605.9,602.9 1602.2,604.6 1598.6,606.3 1595,608.1 1591.4,609.8 1587.8,611.6 1584.2,613.4 1580.6,615.2 1577,616.9 1573.4,618.7 1569.8,620.5 1566.3,622.4 1562.7,624.2 1559.1,626 1555.6,627.9 1552,629.8 1548.5,631.7 1545,633.5 1541.4,635.4 1537.9,637.4 1534.4,639.3 1530.9,641.2 1527.3,643.2 1523.8,645.1 1520.3,647.1 1516.8,649 1513.3,651 1509.9,653 1506.4,655 1502.9,657 1499.4,659 1496,661.1" fill="none" stroke="#000000" stroke-width="8" stroke-linejoin="round" stroke-linecap="round"/>
<polyline points="1494.2,628.5 1497,625.6 1499.7,622.6 1502.4,619.7 1505.1,616.8 1507.9,613.8 1510.6,610.9 1513.4,608 1516.1,605.1 1518.9,602.1 1521.6,599.2 1524.4,596.3 1527.1,593.4 1529.9,590.5 1532.6,587.6 1535.4,584.7 1538.2,581.8 1541,578.9 1543.7,576 1546.5,573.1 1549.3,570.2 1552.1,567.3 1554.9,564.5 1557.7,561.6 1560.5,558.7 1563.3,555.8 1566.1,553 1568.9,550.1 1571.7,547.2 1574.5,544.4 1577.3,541.5 1580.1,538.7 1582.9,535.8 1585.8,533 1588.6,530.1 1591.4,527.3 1594.2,524.4 1597.1,521.6 1599.9,518.8 1602.8,515.9 1605.6,513.1 1608.5,510.3 1611.3,507.5 1614.2,504.7 1617.1,501.9 1619.9,499.1 1622.8,496.3 1625.7,493.5 1628.6,490.7 1631.4,487.9 1634.3,485.1 1637.2,482.3 1640,479.5 1642.9,476.6 1645.8,473.8 1648.7,471 1651.5,468.2 1654.4,465.4 1657.3,462.6 1660.2,459.8 1663.2,457.1 1666.1,454.3 1669,451.6 1672,448.9 1675,446.2 1678,443.6 1681,441 1684,438.4 1687.1,435.8 1690.2,433.3 1693.3,430.8 1696.4,428.4 1699.6,425.9 1702.8,423.5 1706,421.1 1709.2,418.7 1712.5,416.3 1715.7,414 1719,411.6 1722.3,409.3 1725.7,407.1 1729,404.8 1732.4,402.6 1735.7,400.4 1739.1,398.2 1742.5,396.1 1745.9,394 1749.3,391.9 1752.8,389.8 1756.2,387.8 1759.7,385.8 1763.2,383.9 1766.7,381.9 1770.2,380 1773.7,378.1 1777.3,376.2 1780.8,374.3 1784.4,372.4 1788,370.6 1791.6,368.8 1795.3,367.1 1798.9,365.3 1802.6,363.7 1806.2,362 1809.9,360.5 1813.6,358.9 1817.3,357.5 1821,356 1824.8,354.6 1828.5,353.3 1832.3,352 1836.1,350.7 1839.9,349.4 1843.7,348.2 1847.5,347 1851.4,345.8 1855.2,344.7 1859.1,343.5 1863,342.5 1866.9,341.4 1870.8,340.4 1874.7,339.4 1878.6,338.5 1882.5,337.6 1886.4,336.8 1890.3,336 1894.2,335.2 1898.2,334.5 1902.1,333.7 1906,333 1910,332.3 1914,331.7 1917.9,331 1921.9,330.4 1925.9,329.8 1929.8,329.2 1933.8,328.7 1937.8,328.2 1941.8,327.6 1945.8,327.2 1949.8,326.7 1953.7,326.2 1957.7,325.8 1961.7,325.4 1965.7,324.9 1969.7,324.5 1973.7,324.1 1977.7,323.7 1981.7,323.4 1985.7,323.2 1989.7,323.1 1993.7,323 1997.7,323.1 2001.7,323.2 2005.7,323.4 2009.7,323.7 2013.7,324 2017.7,324.3 2021.7,324.7 2025.6,325.2 2029.6,325.7 2033.5,326.3 2037.5,327 2041.4,327.7 2045.3,328.6 2049.3,329.4 2053.2,330.3 2057.1,331.2 2061,332.2 2064.9,333.1 2068.9,334 2072.8,335 2076.7,335.9 2080.6,336.8 2084.5,337.6 2088.5,338.5 2092.4,339.4 2096.3,340.3 2100.2,341.2 2104.1,342.1 2108.1,342.9 2112,343.6 2116,344.2 2119.9,344.6 2123.9,345 2127.9,345.2 2131.9,345.3 2135.9,345 2139.9,344.4 2143.7,343.3 2147.4,341.8 2150.7,339.9 2153.8,337.7 2156.5,335 2159,332 2161.4,328.7 2163.8,325.2 2166.1,321.8 2168.5,318.4 2170.9,315.1 2173.3,311.9 2175.8,308.7 2178.2,305.6 2180.7,302.4 2183.2,299.3 2185.8,296.1 2188.3,293 2190.9,289.9 2193.5,286.8 2196.2,283.8 2199,281 2202,278.5 2205.1,276.1 2208.4,273.9 2211.9,271.8 2215.5,269.9 2217.3,269 2215.3,272.6 2213.3,276.1 2211.3,279.6 2209,282.9 2206.7,286.1 2204.2,289.2 2201.6,292.2 2198.9,295 2195.9,297.8 2192.9,300.5 2189.8,303.1 2186.7,305.6 2183.5,308.1 2180.3,310.5 2177.1,312.9 2173.8,315.2 2170.5,317.5 2167.2,319.8 2163.8,322.1 2160.6,324.4 2157.3,326.8 2154.2,329.2 2151.1,331.8 2148.2,334.4 2145.3,337.2 2142.5,340.1 2139.7,343 2137,346 2134.2,349 2131.5,351.9 2128.7,354.9 2125.9,357.7 2123,360.5 2120.1,363.1 2117,365.7 2113.9,368.2 2110.7,370.5 2107.4,372.9 2104.1,375.1 2100.8,377.3 2097.4,379.5 2093.9,381.7 2090.5,383.8 2087.1,385.9 2083.7,387.9 2080.2,390 2076.8,392 2073.3,394 2069.8,396 2066.3,398 2062.8,400 2059.3,401.9 2055.8,403.8 2052.2,405.7 2048.7,407.6 2045.1,409.5 2041.5,411.3 2038,413.1 2034.4,415 2030.8,416.8 2027.2,418.5 2023.6,420.3 2020,422 2016.4,423.8 2012.7,425.5 2009.1,427.2 2005.5,428.8 2001.8,430.5 1998.1,432.1 1994.5,433.7 1990.8,435.3 1987.1,436.9 1983.4,438.5 1979.7,440.1 1976,441.6 1972.3,443.2 1968.6,444.7 1964.9,446.3 1961.2,447.8 1957.5,449.3 1953.8,450.9 1950,452.4 1946.3,453.9 1942.6,455.3 1938.9,456.8 1935.1,458.3 1931.4,459.7 1927.6,461.1 1923.9,462.6 1920.1,464 1916.4,465.4 1912.6,466.9 1908.9,468.3 1905.1,469.8 1901.4,471.2 1897.7,472.7 1893.9,474.2 1890.2,475.7 1886.5,477.2 1882.8,478.7 1879.1,480.2 1875.4,481.8 1871.7,483.3 1868,484.9 1864.3,486.4 1860.6,488 1856.9,489.5 1853.2,491.1 1849.5,492.7 1845.8,494.3 1842.1,495.9 1838.4,497.5 1834.8,499.2 1831.1,500.8 1827.5,502.5 1823.8,504.1 1820.2,505.8 1816.6,507.5 1813,509.3 1809.3,511 1805.7,512.8 1802.2,514.6 1798.6,516.4 1795,518.2 1791.4,520 1787.8,521.8 1784.3,523.6 1780.7,525.5 1777.1,527.3 1773.5,529.1 1769.9,530.9 1766.3,532.7 1762.7,534.5 1759.1,536.2 1755.5,538 1751.9,539.7 1748.3,541.5 1744.7,543.2 1741.1,544.9 1737.4,546.6 1733.8,548.4 1730.2,550.1 1726.5,551.8 1722.9,553.5 1719.3,555.2 1715.6,556.9 1712,558.6 1708.4,560.3 1704.7,561.9 1701.1,563.6 1697.4,565.3 1693.8,567 1690.2,568.7 1686.5,570.4 1682.9,572 1679.2,573.7 1675.6,575.4 1671.9,577.1 1668.3,578.7 1664.6,580.4 1661,582 1657.3,583.7 1653.7,585.4 1650,587 1646.4,588.7 1642.7,590.4 1639.1,592 1635.4,593.7 1631.8,595.4 1628.1,597.1 1624.5,598.8 1620.8,600.4 1617.2,602.1 1613.5,603.8 1609.9,605.5 1606.2,607.2 1602.6,608.8 1598.9,610.5 1595.3,612.2 1591.6,613.9 1588,615.6 1584.4,617.3 1580.8,619 1577.2,620.8 1573.6,622.6 1570,624.4 1566.4,626.2 1562.9,628 1559.3,629.9 1555.8,631.8 1552.3,633.7 1548.8,635.7 1545.3,637.7 1541.8,639.6 1538.4,641.7 1534.9,643.7 1531.5,645.7 1528,647.8 1524.6,649.9 1521.2,652 1517.8,654.2 1514.4,656.3 1511,658.5 1507.6,660.7 1504.3,662.9 1500.9,665.1 1497.6,667.3 1494.2,669.6" fill="none" stroke="#ff0000" stroke-width="8" stroke-linejoin="round" stroke-linecap="round"/>
<polyline points="1494.2,623.6 1497.1,620.7 1499.9,617.9 1502.7,615.1 1505.6,612.2 1508.4,609.4 1511.2,606.5 1514,603.7 1516.9,600.8 1519.7,598 1522.5,595.1 1525.4,592.3 1528.2,589.4 1531,586.6 1533.8,583.7 1536.7,580.9 1539.5,578.1 1542.3,575.2 1545.2,572.4 1548,569.5 1550.8,566.7 1553.6,563.8 1556.5,561 1559.3,558.1 1562.1,555.3 1564.9,552.4 1567.8,549.6 1570.6,546.7 1573.4,543.8 1576.2,541 1579,538.1 1581.8,535.2 1584.6,532.4 1587.4,529.5 1590.2,526.6 1593.1,523.8 1595.9,520.9 1598.7,518.1 1601.5,515.2 1604.3,512.3 1607.2,509.5 1610,506.7 1612.8,503.8 1615.7,501 1618.5,498.2 1621.4,495.4 1624.2,492.5 1627.1,489.7 1630,486.9 1632.9,484.1 1635.7,481.4 1638.6,478.6 1641.5,475.8 1644.4,473 1647.3,470.2 1650.2,467.4 1653.1,464.7 1656,461.9 1659,459.2 1661.9,456.4 1664.8,453.7 1667.7,450.9 1670.7,448.2 1673.6,445.4 1676.6,442.7 1679.5,440 1682.5,437.3 1685.4,434.6 1688.4,431.9 1691.4,429.2 1694.3,426.5 1697.3,423.8 1700.3,421.1 1703.3,418.4 1706.2,415.7 1709.2,413 1712.2,410.3 1715.2,407.6 1718.2,404.9 1721.2,402.2 1724.2,399.5 1727.2,396.9 1730.2,394.2 1733.3,391.6 1736.3,389 1739.4,386.4 1742.5,383.9 1745.6,381.4 1748.7,378.9 1751.9,376.4 1755,373.9 1758.2,371.5 1761.4,369.1 1764.6,366.7 1767.9,364.4 1771.1,362 1774.4,359.7 1777.7,357.4 1781,355.1 1784.3,352.8 1787.6,350.6 1791,348.3 1794.4,346.1 1797.7,343.9 1801.1,341.8 1804.5,339.6 1807.9,337.5 1811.4,335.4 1814.8,333.4 1818.3,331.3 1821.7,329.3 1825.2,327.3 1828.7,325.3 1832.2,323.4 1835.7,321.4 1839.2,319.4 1842.7,317.5 1846.3,315.5 1849.8,313.6 1853.4,311.7 1857,309.9 1860.6,308 1864.2,306.3 1867.8,304.5 1871.5,302.9 1875.1,301.3 1878.8,299.7 1882.5,298.2 1886.2,296.8 1889.9,295.4 1893.7,294 1897.5,292.7 1901.2,291.3 1905.1,290 1908.9,288.7 1912.7,287.5 1916.6,286.3 1920.5,285.1 1924.3,284 1928.2,282.9 1932.1,281.9 1936.1,280.9 1940,280 1943.9,279.2 1947.8,278.5 1951.8,277.9 1955.7,277.3 1959.7,276.7 1963.6,276.2 1967.6,275.7 1971.6,275.2 1975.6,274.7 1979.6,274.3 1983.6,273.9 1987.6,273.5 1991.6,273.2 1995.7,272.9 1999.7,272.6 2003.7,272.4 2007.7,272.3 2011.7,272.3 2015.7,272.3 2019.7,272.4 2023.6,272.6 2027.6,272.9 2031.6,273.3 2035.6,273.7 2039.6,274.3 2043.6,274.9 2047.6,275.5 2051.5,276.2 2055.5,277 2059.5,277.8 2063.4,278.6 2067.4,279.4 2071.3,280.3 2075.3,281.1 2079.2,282 2083.1,282.9 2087,283.8 2090.9,284.8 2094.7,285.8 2098.5,287 2102.4,288.2 2106.2,289.5 2110,290.7 2113.9,292 2117.7,293.2 2121.5,294.4 2125.4,295.6 2129.2,296.7 2133.1,297.7 2137,298.5 2141,299.1 2145,299.5 2149,299.7 2153,299.6 2157,299.1 2160.8,298.4 2164.4,297.2 2167.8,295.5 2170.9,293.3 2173.9,290.6 2176.8,287.6 2179.7,284.7 2182.8,281.8 2185.9,279.2 2189.2,276.7 2192.6,274.5 2196.1,272.5 2199.7,270.9 2203.4,269.7 2207.3,268.9 2211.2,268.4 2215.2,268.1 2217.3,268 2214.3,270.7 2211.2,273.3 2208.2,275.9 2205.1,278.6 2202.1,281.1 2199,283.7 2195.9,286.3 2192.8,288.8 2189.7,291.4 2186.6,293.9 2183.4,296.4 2180.3,298.8 2177.1,301.3 2173.9,303.7 2170.7,306.1 2167.5,308.5 2164.2,310.8 2161,313.2 2157.8,315.6 2154.6,318 2151.4,320.5 2148.2,323 2145.1,325.5 2142,328 2138.8,330.5 2135.7,333 2132.6,335.5 2129.4,338 2126.3,340.4 2123.1,342.9 2119.9,345.3 2116.6,347.7 2113.4,350.1 2110.2,352.4 2106.9,354.8 2103.7,357.1 2100.4,359.5 2097.1,361.7 2093.8,364 2090.4,366.2 2087.1,368.4 2083.7,370.6 2080.3,372.7 2076.9,374.8 2073.5,376.9 2070.1,379 2066.7,381.1 2063.2,383.1 2059.7,385.1 2056.3,387.2 2052.8,389.1 2049.3,391.1 2045.8,393.1 2042.2,395 2038.7,397 2035.2,398.9 2031.7,400.8 2028.1,402.7 2024.6,404.6 2021.1,406.5 2017.5,408.3 2014,410.2 2010.4,412 2006.8,413.9 2003.2,415.7 1999.7,417.5 1996.1,419.3 1992.5,421.1 1988.9,422.8 1985.3,424.6 1981.6,426.3 1978,428.1 1974.4,429.8 1970.8,431.5 1967.1,433.2 1963.5,434.9 1959.9,436.6 1956.2,438.3 1952.6,440 1948.9,441.6 1945.3,443.3 1941.6,444.9 1937.9,446.5 1934.2,448 1930.5,449.6 1926.8,451.2 1923.2,452.8 1919.5,454.3 1915.8,455.9 1912.1,457.4 1908.4,459 1904.7,460.6 1901,462.2 1897.3,463.8 1893.7,465.4 1890,467.1 1886.4,468.8 1882.7,470.4 1879.1,472.1 1875.5,473.8 1871.8,475.5 1868.2,477.3 1864.6,479 1861,480.7 1857.4,482.5 1853.8,484.3 1850.1,486 1846.5,487.8 1842.9,489.6 1839.4,491.4 1835.8,493.1 1832.2,494.9 1828.6,496.7 1825,498.6 1821.4,500.4 1817.9,502.2 1814.3,504.1 1810.8,505.9 1807.2,507.8 1803.7,509.7 1800.2,511.6 1796.6,513.5 1793.1,515.5 1789.6,517.4 1786.1,519.3 1782.5,521.2 1779,523.1 1775.5,525 1771.9,526.9 1768.4,528.8 1764.8,530.6 1761.2,532.4 1757.7,534.3 1754.1,536.1 1750.5,537.8 1746.9,539.6 1743.3,541.4 1739.7,543.1 1736.1,544.8 1732.4,546.6 1728.8,548.3 1725.2,550 1721.6,551.7 1717.9,553.4 1714.3,555.1 1710.6,556.8 1707,558.5 1703.4,560.2 1699.7,561.9 1696.1,563.6 1692.5,565.3 1688.8,566.9 1685.2,568.6 1681.5,570.3 1677.9,572 1674.3,573.7 1670.6,575.4 1667,577 1663.3,578.7 1659.7,580.4 1656,582.1 1652.4,583.7 1648.7,585.4 1645.1,587.1 1641.4,588.8 1637.8,590.4 1634.2,592.1 1630.5,593.8 1626.9,595.5 1623.3,597.3 1619.6,599 1616,600.7 1612.4,602.4 1608.7,604.1 1605.1,605.8 1601.5,607.5 1597.8,609.2 1594.2,610.9 1590.6,612.7 1587,614.4 1583.4,616.2 1579.8,617.9 1576.2,619.7 1572.6,621.5 1569,623.3 1565.4,625.1 1561.9,627 1558.3,628.8 1554.8,630.7 1551.3,632.6 1547.8,634.6 1544.3,636.5 1540.8,638.4 1537.3,640.4 1533.8,642.4 1530.3,644.4 1526.8,646.4 1523.4,648.4 1519.9,650.5 1516.5,652.5 1513,654.6 1509.6,656.7 1506.2,658.8 1502.7,660.9 1499.3,663 1495.9,665.2" fill="none" stroke="#0000ff" stroke-width="8" stroke-linejoin="round" stroke-linecap="round"/>
<polyline points="1494.2,637 1496.9,634 1499.5,630.9 1502.1,627.9 1504.8,624.9 1507.4,621.8 1510.1,618.8 1512.7,615.8 1515.4,612.8 1518.1,609.8 1520.7,606.8 1523.4,603.8 1526.1,600.8 1528.8,597.8 1531.5,594.9 1534.2,591.9 1536.9,588.9 1539.6,586 1542.4,583 1545.1,580.1 1547.8,577.1 1550.5,574.2 1553.3,571.3 1556,568.3 1558.8,565.4 1561.6,562.5 1564.3,559.6 1567.1,556.7 1569.9,553.8 1572.6,550.9 1575.4,548 1578.2,545.1 1581,542.2 1583.8,539.3 1586.6,536.4 1589.4,533.5 1592.2,530.7 1595.1,527.8 1597.9,524.9 1600.7,522.1 1603.6,519.3 1606.4,516.4 1609.3,513.6 1612.2,510.8 1615,508 1617.9,505.2 1620.8,502.4 1623.7,499.7 1626.7,496.9 1629.6,494.2 1632.5,491.4 1635.4,488.6 1638.3,485.9 1641.3,483.1 1644.2,480.3 1647.2,477.6 1650.1,474.8 1653.1,472.1 1656.1,469.4 1659.1,466.7 1662.1,464 1665.1,461.3 1668.1,458.7 1671.2,456.1 1674.2,453.5 1677.3,450.9 1680.4,448.4 1683.5,445.9 1686.7,443.4 1689.8,441 1693,438.6 1696.2,436.2 1699.5,433.8 1702.7,431.4 1706,429 1709.3,426.6 1712.6,424.2 1715.9,421.9 1719.2,419.6 1722.6,417.3 1726,415 1729.4,412.9 1732.8,410.7 1736.3,408.6 1739.7,406.6 1743.2,404.7 1746.8,402.8 1750.3,401 1753.9,399.3 1757.4,397.7 1761.1,396.1 1764.7,394.6 1768.4,393.1 1772.2,391.7 1775.9,390.3 1779.7,388.9 1783.5,387.6 1787.4,386.3 1791.2,385 1795.1,383.8 1799,382.7 1802.9,381.5 1806.8,380.4 1810.7,379.4 1814.6,378.4 1818.5,377.5 1822.4,376.5 1826.3,375.7 1830.2,374.8 1834.1,373.9 1838,373.1 1842,372.3 1845.9,371.5 1849.9,370.7 1853.9,370 1857.8,369.3 1861.8,368.6 1865.8,368 1869.8,367.4 1873.7,366.8 1877.7,366.3 1881.7,365.8 1885.7,365.4 1889.7,365 1893.7,364.6 1897.7,364.3 1901.7,363.9 1905.7,363.6 1909.7,363.3 1913.7,362.9 1917.7,362.7 1921.8,362.4 1925.8,362.2 1929.8,362 1933.8,361.8 1937.8,361.7 1941.8,361.6 1945.8,361.5 1949.8,361.6 1953.8,361.8 1957.8,362.1 1961.8,362.5 1965.8,362.9 1969.8,363.5 1973.8,364.1 1977.8,364.7 1981.8,365.4 1985.7,366 1989.7,366.6 1993.7,367.3 1997.6,368 2001.6,368.7 2005.5,369.5 2009.5,370.2 2013.4,371 2017.4,371.8 2021.3,372.5 2025.3,373.2 2029.2,374 2033.2,374.8 2037.1,375.7 2041.1,376.5 2045,377.3 2049,378.1 2052.9,378.9 2056.9,379.7 2060.8,380.4 2064.8,381.1 2068.7,381.7 2072.7,382.3 2076.7,382.7 2080.7,383.1 2084.7,383.4 2088.6,383.6 2092.7,383.8 2096.7,384 2100.7,384.1 2104.7,384.3 2108.7,384.4 2112.8,384.4 2116.8,384.4 2120.9,384.3 2125,384.1 2128.8,383.6 2132.2,382.7 2135.1,381.2 2137.7,378.9 2140,375.8 2142.2,372.2 2144.4,368.2 2146.5,364.2 2148.7,360.3 2151,356.8 2153.5,353.4 2156,350.3 2158.6,347.2 2161.2,344.1 2163.9,341 2166.6,338 2169.3,335.1 2172.1,332.1 2174.9,329.3 2177.7,326.4 2180.6,323.7 2183.6,321 2186.5,318.3 2189.6,315.7 2192.6,313.2 2195.8,310.7 2199,308.3 2202.2,305.9 2205.5,303.5 2208.8,301.2 2212.2,299 2215.6,296.8 2217.3,295.7 2213.5,297.7 2209.8,299.9 2206.4,302.3 2203.2,304.8 2200.2,307.5 2197.4,310.3 2194.8,313.2 2192.4,316.2 2190.2,319.4 2188.4,322.8 2186.7,326.5 2184.9,330.2 2183,334 2181,337.8 2178.8,341.3 2176.2,343.7 2172.9,345.1 2168.9,345.9 2165.1,347 2161.9,348.9 2159,351.6 2156.4,354.8 2153.6,358 2150.7,360.8 2147.6,363.2 2144.3,365.4 2140.9,367.6 2137.5,369.6 2134,371.7 2130.4,373.6 2126.9,375.6 2123.3,377.5 2119.8,379.5 2116.3,381.5 2112.8,383.4 2109.3,385.3 2105.7,387.2 2102.2,389 2098.6,390.9 2095.1,392.8 2091.6,394.7 2088.1,396.7 2084.6,398.7 2081.1,400.7 2077.7,402.8 2074.3,405 2071,407.2 2067.6,409.4 2064.3,411.7 2061,414 2057.6,416.3 2054.3,418.5 2051,420.8 2047.7,423.1 2044.3,425.3 2041,427.5 2037.6,429.7 2034.2,431.8 2030.8,433.8 2027.3,435.8 2023.8,437.8 2020.3,439.6 2016.8,441.4 2013.2,443.2 2009.6,444.9 2006,446.6 2002.3,448.2 1998.7,449.8 1995,451.4 1991.3,453 1987.5,454.5 1983.8,456 1980.1,457.5 1976.3,459 1972.6,460.5 1968.8,461.9 1965.1,463.3 1961.3,464.8 1957.5,466.2 1953.8,467.6 1950,469 1946.3,470.4 1942.5,471.8 1938.7,473.1 1935,474.4 1931.2,475.7 1927.4,477 1923.6,478.3 1919.8,479.6 1916,480.9 1912.2,482.1 1908.3,483.4 1904.5,484.7 1900.7,486 1896.9,487.3 1893.1,488.6 1889.4,489.9 1885.6,491.2 1881.8,492.5 1878,493.8 1874.2,495.1 1870.4,496.4 1866.6,497.7 1862.8,499 1859,500.3 1855.2,501.6 1851.4,502.9 1847.6,504.3 1843.8,505.6 1840.1,507 1836.3,508.3 1832.5,509.7 1828.8,511.1 1825.1,512.6 1821.3,514 1817.6,515.5 1813.9,517.1 1810.2,518.6 1806.5,520.2 1802.9,521.8 1799.2,523.4 1795.5,525 1791.8,526.6 1788.2,528.3 1784.5,529.9 1780.9,531.6 1777.2,533.3 1773.6,534.9 1769.9,536.6 1766.3,538.3 1762.6,540 1759,541.6 1755.3,543.3 1751.7,545 1748.1,546.7 1744.4,548.4 1740.8,550.1 1737.2,551.8 1733.5,553.5 1729.9,555.2 1726.3,556.9 1722.7,558.7 1719.1,560.4 1715.4,562.1 1711.8,563.8 1708.2,565.5 1704.5,567.2 1700.9,568.9 1697.3,570.6 1693.6,572.2 1690,573.9 1686.3,575.5 1682.6,577.1 1678.9,578.7 1675.3,580.3 1671.6,581.9 1667.9,583.5 1664.2,585 1660.5,586.6 1656.8,588.2 1653.1,589.7 1649.4,591.3 1645.7,592.8 1642,594.4 1638.3,596 1634.7,597.6 1631,599.2 1627.3,600.8 1623.7,602.5 1620,604.1 1616.3,605.7 1612.6,607.3 1609,608.9 1605.3,610.6 1601.6,612.2 1597.9,613.8 1594.2,615.5 1590.6,617.1 1586.9,618.8 1583.3,620.5 1579.7,622.2 1576,623.9 1572.5,625.7 1568.9,627.5 1565.3,629.3 1561.8,631.1 1558.3,633 1554.8,635 1551.3,636.9 1547.9,638.9 1544.4,640.9 1541,643 1537.5,645 1534.1,647.1 1530.7,649.2 1527.3,651.4 1524,653.6 1520.6,655.8 1517.3,658 1513.9,660.3 1510.6,662.6 1507.3,664.9 1504,667.2 1500.7,669.5 1497.5,671.9 1494.2,674.3" fill="none" stroke="#00ff00" stroke-width="8" stroke-linejoin="round" stroke-linecap="round"/>
<rect x="1428.5" y="39" width="854.5" height="691" fill="none" stroke="#000" stroke-width="8"/>
<text transform="translate(1404 748) scale(1 1.045)" font-size="58" text-anchor="end">-0.05</text>
<text transform="translate(1404 649.29) scale(1 1.045)" font-size="58" text-anchor="end">0.00</text>
<text transform="translate(1404 550.57) scale(1 1.045)" font-size="58" text-anchor="end">0.05</text>
<text transform="translate(1404 451.86) scale(1 1.045)" font-size="58" text-anchor="end">0.10</text>
<text transform="translate(1404 353.14) scale(1 1.045)" font-size="58" text-anchor="end">0.15</text>
<text transform="translate(1404 254.43) scale(1 1.045)" font-size="58" text-anchor="end">0.20</text>
<text transform="translate(1404 155.71) scale(1 1.045)" font-size="58" text-anchor="end">0.25</text>
<text transform="translate(1404 57) scale(1 1.045)" font-size="58" text-anchor="end">0.30</text>
<path d="M1428.5 730h-14M1428.5 631.3h-14M1428.5 532.6h-14M1428.5 433.9h-14M1428.5 335.1h-14M1428.5 236.4h-14M1428.5 137.7h-14M1428.5 39h-14M1428.5 680.6h-7M1428.5 581.9h-7M1428.5 483.2h-7M1428.5 384.5h-7M1428.5 285.8h-7M1428.5 187.1h-7M1428.5 88.4h-7" stroke="#000" stroke-width="8" fill="none"/>
<text transform="translate(1428.5 799.5) scale(1 1.045)" font-size="58" text-anchor="middle">0.4</text>
<text transform="translate(1559.96 799.5) scale(1 1.045)" font-size="58" text-anchor="middle">0.6</text>
<text transform="translate(1691.42 799.5) scale(1 1.045)" font-size="58" text-anchor="middle">0.8</text>
<text transform="translate(1822.88 799.5) scale(1 1.045)" font-size="58" text-anchor="middle">1.0</text>
<text transform="translate(1954.35 799.5) scale(1 1.045)" font-size="58" text-anchor="middle">1.2</text>
<text transform="translate(2085.81 799.5) scale(1 1.045)" font-size="58" text-anchor="middle">1.4</text>
<text transform="translate(2217.27 799.5) scale(1 1.045)" font-size="58" text-anchor="middle">1.6</text>
<path d="M1428.5 730v14M1560 730v14M1691.4 730v14M1822.9 730v14M1954.3 730v14M2085.8 730v14M2217.3 730v14M1494.2 730v7M1625.7 730v7M1757.2 730v7M1888.6 730v7M2020.1 730v7M2151.5 730v7M2283 730v7" stroke="#000" stroke-width="8" fill="none"/>
<line x1="1436" y1="73" x2="1553" y2="73" stroke="#000000" stroke-width="8" stroke-linecap="round"/>
<text transform="translate(1567.5 91) scale(1 1.03)" font-size="52">40 mV s<tspan font-size="33" dy="-21">&#8722;1</tspan></text>
<line x1="1436" y1="144" x2="1553" y2="144" stroke="#ff0000" stroke-width="8" stroke-linecap="round"/>
<text transform="translate(1567.5 162) scale(1 1.03)" font-size="52">60 mV s<tspan font-size="33" dy="-21">&#8722;1</tspan></text>
<line x1="1436" y1="215.3" x2="1553" y2="215.3" stroke="#0000ff" stroke-width="8" stroke-linecap="round"/>
<text transform="translate(1567.5 233.3) scale(1 1.03)" font-size="52">80 mV s<tspan font-size="33" dy="-21">&#8722;1</tspan></text>
<line x1="1436" y1="286.7" x2="1553" y2="286.7" stroke="#00ff00" stroke-width="8" stroke-linecap="round"/>
<text transform="translate(1567.5 304.7) scale(1 1.03)" font-size="52">100 mV s<tspan font-size="33" dy="-21">&#8722;1</tspan></text>
<text transform="translate(1855.7 865) scale(1 0.985)" font-size="59.2" text-anchor="middle">Voltage (V)</text>
<text transform="translate(1268.8 386) rotate(-90) scale(1 0.99)" font-size="58.4" text-anchor="middle">Current (A)</text>
<text transform="translate(1850.5 99)" font-size="59">(b)</text>
<text transform="translate(2266 703.8) scale(1 1.02)" font-size="58.2" text-anchor="end">400°C GF</text>
<polyline points="301.7,1510.3 304.4,1507.4 307.1,1504.4 309.9,1501.5 312.6,1498.5 315.3,1495.6 318.1,1492.6 320.8,1489.7 323.5,1486.8 326.3,1483.8 329.1,1480.9 331.8,1478 334.6,1475.1 337.4,1472.2 340.1,1469.3 342.9,1466.4 345.7,1463.5 348.5,1460.7 351.3,1457.8 354.1,1454.9 356.9,1452 359.7,1449.2 362.5,1446.3 365.3,1443.5 368.2,1440.6 371,1437.8 373.8,1434.9 376.7,1432.1 379.5,1429.3 382.4,1426.4 385.2,1423.6 388.1,1420.8 390.9,1418 393.8,1415.2 396.7,1412.4 399.5,1409.6 402.4,1406.8 405.3,1404 408.2,1401.2 411.1,1398.4 414,1395.7 416.9,1392.9 419.9,1390.2 422.8,1387.4 425.7,1384.7 428.7,1382 431.6,1379.3 434.6,1376.6 437.6,1373.9 440.5,1371.2 443.5,1368.5 446.5,1365.9 449.6,1363.2 452.6,1360.6 455.6,1357.9 458.6,1355.3 461.7,1352.7 464.7,1350.1 467.8,1347.5 470.8,1344.9 473.9,1342.3 477,1339.7 480,1337.1 483.1,1334.5 486.2,1331.9 489.2,1329.3 492.3,1326.7 495.4,1324.2 498.4,1321.6 501.5,1319 504.6,1316.4 507.6,1313.7 510.6,1311.1 513.7,1308.4 516.7,1305.8 519.7,1303.1 522.8,1300.5 525.8,1297.8 528.8,1295.2 531.9,1292.6 535,1289.9 538,1287.3 541.1,1284.8 544.2,1282.2 547.4,1279.7 550.5,1277.3 553.7,1274.8 556.8,1272.4 560.1,1270.1 563.3,1267.7 566.6,1265.5 569.9,1263.2 573.2,1261 576.6,1258.9 579.9,1256.7 583.3,1254.6 586.8,1252.5 590.2,1250.4 593.7,1248.4 597.1,1246.3 600.6,1244.3 604.1,1242.3 607.7,1240.4 611.2,1238.4 614.7,1236.5 618.2,1234.5 621.8,1232.6 625.3,1230.8 628.9,1228.9 632.4,1227 636,1225.2 639.5,1223.3 643.1,1221.5 646.7,1219.6 650.3,1217.8 653.9,1216 657.5,1214.2 661.1,1212.4 664.7,1210.6 668.3,1208.9 672,1207.2 675.6,1205.5 679.3,1203.9 683,1202.3 686.7,1200.8 690.4,1199.3 694.1,1197.9 697.9,1196.5 701.6,1195.1 705.4,1193.7 709.2,1192.4 713,1191.1 716.8,1189.8 720.7,1188.6 724.5,1187.4 728.4,1186.3 732.3,1185.3 736.2,1184.4 740.1,1183.6 744,1182.9 748,1182.2 751.9,1181.6 755.9,1181.1 759.9,1180.6 763.9,1180.2 767.9,1179.7 771.9,1179.3 775.9,1179 779.9,1178.7 783.9,1178.5 787.9,1178.4 791.9,1178.4 795.9,1178.6 799.9,1178.9 803.9,1179.3 807.9,1179.8 811.9,1180.3 815.9,1181 819.9,1181.6 823.8,1182.3 827.7,1183 831.7,1183.8 835.6,1184.6 839.4,1185.6 843.3,1186.7 847.2,1187.9 851,1189.1 854.9,1190.3 858.7,1191.5 862.5,1192.7 866.4,1193.9 870.2,1195.1 874,1196.4 877.8,1197.8 881.6,1199 885.5,1200.2 889.3,1201.3 893.2,1202.2 897.1,1203.1 901.1,1203.8 905,1204.5 909,1205 913,1205.2 917,1205.1 921,1204.8 925,1204.1 928.9,1203.2 932.8,1202.2 936.6,1201.3 940.5,1201.2 944.3,1201.8 948.1,1203 951.9,1204.6 955.7,1206.1 959.5,1207.5 963.4,1208.7 967.2,1209.8 971.2,1210.7 975.1,1211.3 979.1,1211.4 983.1,1211.3 987.1,1210.9 990.8,1210 994.3,1208.3 997.8,1206.2 1001.4,1204.2 1005,1202.7 1008.8,1201.3 1012.6,1200.1 1016.5,1199.1 1020.5,1198.2 1024.5,1197.5 1024.5,1197.5 1021.1,1199.6 1017.6,1201.7 1014.2,1203.8 1010.7,1205.8 1007.2,1207.8 1003.7,1209.8 1000.2,1211.7 996.7,1213.6 993.1,1215.5 989.6,1217.4 986.1,1219.4 982.7,1221.5 979.3,1223.7 975.9,1225.8 972.5,1228 969.1,1230.2 965.7,1232.3 962.3,1234.4 958.8,1236.3 955.2,1238.2 951.7,1240 948.1,1241.8 944.4,1243.5 940.8,1245.2 937.1,1246.8 933.4,1248.5 929.7,1250.1 926,1251.6 922.3,1253.2 918.6,1254.8 914.9,1256.3 911.2,1257.8 907.5,1259.4 903.7,1260.8 900,1262.3 896.3,1263.8 892.5,1265.2 888.8,1266.7 885,1268.2 881.3,1269.7 877.6,1271.2 873.8,1272.7 870.1,1274.2 866.4,1275.8 862.7,1277.3 858.9,1278.7 855.2,1280.2 851.4,1281.7 847.7,1283.1 843.9,1284.5 840.1,1285.9 836.4,1287.2 832.6,1288.6 828.8,1289.8 825,1291.1 821.1,1292.3 817.3,1293.4 813.5,1294.6 809.6,1295.7 805.7,1296.7 801.8,1297.8 798,1298.9 794.1,1299.9 790.2,1300.9 786.3,1302 782.4,1303 778.5,1304 774.6,1305.1 770.8,1306.2 766.9,1307.3 763,1308.4 759.2,1309.5 755.3,1310.7 751.5,1311.8 747.6,1313 743.8,1314.1 739.9,1315.3 736.1,1316.5 732.3,1317.7 728.4,1318.9 724.6,1320.1 720.8,1321.3 716.9,1322.6 713.1,1323.8 709.3,1325.1 705.5,1326.4 701.7,1327.7 697.9,1329 694.1,1330.4 690.4,1331.7 686.6,1333.1 682.9,1334.6 679.1,1336 675.4,1337.5 671.6,1339 667.9,1340.5 664.2,1342 660.5,1343.5 656.8,1345.1 653.1,1346.6 649.3,1348.2 645.6,1349.8 641.9,1351.3 638.2,1352.9 634.5,1354.4 630.8,1356 627.1,1357.5 623.4,1359.1 619.7,1360.6 616,1362.2 612.3,1363.7 608.6,1365.3 604.9,1366.8 601.2,1368.4 597.5,1370 593.8,1371.6 590.1,1373.2 586.4,1374.8 582.7,1376.4 579,1378 575.4,1379.6 571.7,1381.3 568,1383 564.4,1384.6 560.8,1386.4 557.2,1388.1 553.5,1389.8 549.9,1391.6 546.3,1393.4 542.8,1395.2 539.2,1397 535.6,1398.9 532,1400.7 528.4,1402.5 524.9,1404.4 521.3,1406.2 517.7,1408.1 514.2,1410 510.6,1411.8 507,1413.7 503.5,1415.5 499.9,1417.4 496.3,1419.2 492.7,1421 489.2,1422.8 485.6,1424.7 482,1426.5 478.4,1428.3 474.8,1430.1 471.2,1431.9 467.6,1433.7 464,1435.6 460.5,1437.4 456.9,1439.2 453.3,1441.1 449.8,1443 446.2,1444.8 442.7,1446.7 439.2,1448.7 435.6,1450.6 432.1,1452.5 428.6,1454.5 425.1,1456.5 421.6,1458.5 418.2,1460.5 414.7,1462.5 411.2,1464.5 407.7,1466.5 404.3,1468.6 400.8,1470.7 397.4,1472.7 393.9,1474.8 390.5,1477 387.1,1479.1 383.7,1481.2 380.3,1483.4 376.9,1485.6 373.6,1487.8 370.3,1490 367,1492.3 363.7,1494.5 360.4,1496.8 357.1,1499.1 353.8,1501.5 350.6,1503.8 347.3,1506.2 344.1,1508.6 340.9,1511 337.7,1513.4 334.5,1515.8 331.3,1518.3 328.1,1520.8 325,1523.3 321.8,1525.8 318.7,1528.3 315.6,1530.9 312.5,1533.4 309.4,1536 306.3,1538.6 303.2,1541.3" fill="none" stroke="#000000" stroke-width="8" stroke-linejoin="round" stroke-linecap="round"/>
<polyline points="301.7,1509.2 304.4,1506.2 307.2,1503.3 309.9,1500.3 312.6,1497.4 315.4,1494.5 318.1,1491.6 320.9,1488.6 323.6,1485.7 326.4,1482.8 329.1,1479.9 331.9,1477 334.7,1474.1 337.4,1471.2 340.2,1468.3 343,1465.4 345.8,1462.5 348.6,1459.7 351.4,1456.8 354.2,1453.9 357,1451.1 359.8,1448.2 362.6,1445.3 365.4,1442.5 368.3,1439.7 371.1,1436.8 373.9,1434 376.7,1431.1 379.6,1428.3 382.4,1425.5 385.3,1422.6 388.1,1419.8 391,1417 393.8,1414.2 396.7,1411.4 399.6,1408.6 402.4,1405.8 405.3,1403 408.2,1400.2 411.1,1397.4 414,1394.7 416.9,1391.9 419.8,1389.2 422.8,1386.4 425.7,1383.7 428.6,1381 431.6,1378.2 434.5,1375.5 437.5,1372.8 440.5,1370.2 443.5,1367.5 446.5,1364.8 449.5,1362.2 452.5,1359.5 455.5,1356.9 458.5,1354.3 461.6,1351.7 464.6,1349 467.7,1346.4 470.7,1343.8 473.7,1341.2 476.8,1338.6 479.8,1336 482.9,1333.4 485.9,1330.8 489,1328.2 492,1325.5 495,1322.9 498,1320.3 501.1,1317.6 504.1,1315 507.1,1312.3 510.1,1309.6 513,1306.9 516,1304.3 519,1301.6 522,1298.9 525,1296.2 528,1293.5 530.9,1290.9 533.9,1288.2 536.9,1285.5 539.9,1282.8 542.9,1280.2 545.9,1277.5 549,1274.9 552,1272.3 555,1269.7 558.1,1267.1 561.1,1264.5 564.2,1261.9 567.3,1259.3 570.4,1256.8 573.5,1254.2 576.6,1251.7 579.7,1249.2 582.8,1246.6 585.9,1244.1 589.1,1241.6 592.2,1239.1 595.4,1236.6 598.6,1234.2 601.7,1231.7 604.9,1229.3 608.1,1226.9 611.3,1224.5 614.6,1222.1 617.8,1219.7 621.1,1217.4 624.3,1215.1 627.6,1212.8 630.9,1210.6 634.3,1208.4 637.6,1206.2 641,1204 644.4,1201.9 647.7,1199.8 651.2,1197.7 654.6,1195.6 658,1193.5 661.5,1191.5 664.9,1189.4 668.4,1187.4 671.9,1185.4 675.4,1183.4 678.9,1181.4 682.4,1179.4 685.8,1177.4 689.3,1175.5 692.8,1173.5 696.3,1171.5 699.8,1169.5 703.3,1167.5 706.8,1165.5 710.3,1163.5 713.8,1161.6 717.3,1159.6 720.8,1157.6 724.3,1155.6 727.8,1153.7 731.3,1151.8 734.8,1149.9 738.4,1148 741.9,1146.1 745.5,1144.3 749,1142.5 752.6,1140.7 756.2,1139 759.9,1137.2 763.5,1135.6 767.2,1133.9 770.9,1132.4 774.6,1130.8 778.3,1129.4 782.1,1128 785.8,1126.7 789.7,1125.5 793.5,1124.3 797.4,1123.3 801.2,1122.3 805.1,1121.4 809.1,1120.5 813,1119.8 817,1119.2 820.9,1118.7 824.9,1118.2 828.9,1117.9 832.9,1117.7 836.9,1117.5 840.9,1117.4 844.9,1117.4 848.9,1117.5 852.9,1117.6 856.9,1117.8 860.9,1118.2 864.9,1118.6 868.9,1119.1 872.8,1119.7 876.8,1120.4 880.7,1121.2 884.6,1122 888.5,1123 892.4,1124 896.2,1125.2 900,1126.4 903.8,1127.7 907.6,1129 911.4,1130.3 915.1,1131.7 918.9,1133.1 922.7,1134.5 926.5,1135.8 930.2,1137.2 934,1138.5 937.8,1139.9 941.5,1141.3 945.3,1142.6 949.1,1144 952.8,1145.4 956.6,1146.8 960.4,1148.2 964.1,1149.6 967.9,1151 971.6,1152.4 975.4,1153.8 979.2,1155.1 982.9,1156.5 986.7,1157.9 990.5,1159.3 994.2,1160.7 998,1162 1001.8,1163.4 1005.6,1164.7 1009.3,1166 1013.1,1167.3 1016.9,1168.6 1020.7,1170 1024.5,1171.3 1024.5,1171.3 1021.2,1173.5 1017.8,1175.8 1014.5,1178 1011.1,1180.2 1007.8,1182.4 1004.4,1184.6 1001,1186.7 997.6,1188.8 994.1,1190.9 990.7,1192.9 987.2,1195 983.7,1197 980.2,1198.9 976.7,1200.9 973.2,1202.8 969.6,1204.7 966.1,1206.6 962.5,1208.4 959,1210.3 955.4,1212.2 951.9,1214.1 948.3,1215.9 944.8,1217.8 941.2,1219.7 937.6,1221.5 934.1,1223.4 930.5,1225.2 926.9,1227.1 923.3,1228.9 919.8,1230.7 916.2,1232.5 912.6,1234.3 909,1236.1 905.4,1237.9 901.8,1239.6 898.1,1241.3 894.5,1242.9 890.8,1244.6 887.1,1246.2 883.4,1247.7 879.7,1249.2 876,1250.7 872.2,1252.2 868.5,1253.6 864.7,1255 860.9,1256.4 857.2,1257.8 853.4,1259.2 849.6,1260.5 845.8,1261.9 842,1263.2 838.2,1264.6 834.5,1265.9 830.7,1267.3 826.9,1268.6 823.1,1270 819.3,1271.3 815.5,1272.6 811.7,1273.9 807.9,1275.2 804.1,1276.5 800.3,1277.8 796.5,1279.1 792.7,1280.4 788.9,1281.7 785.1,1283 781.3,1284.3 777.5,1285.6 773.7,1286.9 769.9,1288.2 766.1,1289.5 762.3,1290.8 758.5,1292.1 754.7,1293.5 750.9,1294.8 747.1,1296.1 743.3,1297.4 739.5,1298.7 735.7,1300.1 731.9,1301.4 728.1,1302.7 724.3,1304.1 720.5,1305.5 716.7,1306.9 713,1308.3 709.3,1309.8 705.6,1311.3 701.9,1312.9 698.2,1314.4 694.6,1316.1 691,1317.8 687.4,1319.5 683.8,1321.3 680.2,1323.1 676.7,1325 673.2,1326.9 669.7,1328.9 666.2,1330.9 662.7,1332.9 659.2,1334.9 655.7,1336.9 652.2,1338.9 648.7,1341 645.2,1343 641.7,1344.9 638.2,1346.9 634.7,1348.9 631.1,1350.8 627.6,1352.7 624,1354.6 620.5,1356.4 616.9,1358.3 613.3,1360.1 609.8,1361.9 606.2,1363.7 602.6,1365.5 599,1367.3 595.4,1369.1 591.8,1370.9 588.2,1372.7 584.6,1374.5 581,1376.3 577.4,1378.1 573.8,1379.9 570.2,1381.7 566.7,1383.5 563.1,1385.3 559.5,1387.1 555.9,1388.9 552.3,1390.7 548.7,1392.6 545.1,1394.4 541.6,1396.2 538,1398 534.4,1399.8 530.8,1401.6 527.2,1403.5 523.6,1405.3 520.1,1407.1 516.5,1408.9 512.9,1410.7 509.3,1412.6 505.7,1414.4 502.2,1416.2 498.6,1418 495,1419.9 491.4,1421.7 487.8,1423.5 484.2,1425.3 480.7,1427.1 477.1,1429 473.5,1430.8 469.9,1432.6 466.3,1434.4 462.8,1436.3 459.2,1438.1 455.6,1440 452.1,1441.8 448.5,1443.7 445,1445.6 441.4,1447.5 437.9,1449.4 434.4,1451.3 430.9,1453.3 427.4,1455.3 423.9,1457.2 420.4,1459.2 416.9,1461.2 413.4,1463.2 409.9,1465.3 406.4,1467.3 403,1469.3 399.5,1471.4 396.1,1473.5 392.7,1475.6 389.2,1477.7 385.8,1479.9 382.5,1482 379.1,1484.2 375.8,1486.4 372.4,1488.7 369.1,1490.9 365.8,1493.2 362.6,1495.5 359.3,1497.8 356.1,1500.2 352.9,1502.5 349.6,1504.9 346.5,1507.4 343.3,1509.8 340.1,1512.3 337,1514.8 333.8,1517.3 330.7,1519.8 327.6,1522.4 324.5,1524.9 321.4,1527.5 318.3,1530.2 315.3,1532.8 312.3,1535.5 309.2,1538.1 306.2,1540.8 303.2,1543.5" fill="none" stroke="#ff0000" stroke-width="8" stroke-linejoin="round" stroke-linecap="round"/>
<polyline points="301.7,1510.3 304.4,1507.3 307.1,1504.4 309.8,1501.4 312.5,1498.4 315.2,1495.5 317.9,1492.5 320.7,1489.5 323.4,1486.6 326.1,1483.7 328.9,1480.7 331.6,1477.8 334.3,1474.9 337.1,1471.9 339.9,1469 342.6,1466.1 345.4,1463.2 348.2,1460.3 350.9,1457.4 353.7,1454.5 356.5,1451.6 359.3,1448.8 362.1,1445.9 364.9,1443 367.7,1440.2 370.6,1437.3 373.4,1434.5 376.2,1431.6 379.1,1428.8 381.9,1425.9 384.7,1423.1 387.6,1420.3 390.4,1417.5 393.3,1414.6 396.2,1411.8 399.1,1409 401.9,1406.2 404.8,1403.4 407.7,1400.7 410.6,1397.9 413.5,1395.1 416.4,1392.3 419.4,1389.6 422.3,1386.8 425.2,1384.1 428.2,1381.4 431.1,1378.7 434.1,1376 437,1373.3 440,1370.6 443,1367.9 446,1365.2 449,1362.6 452.1,1360 455.1,1357.3 458.1,1354.7 461.2,1352.1 464.2,1349.5 467.3,1346.9 470.3,1344.2 473.4,1341.6 476.4,1339 479.5,1336.4 482.5,1333.8 485.6,1331.2 488.6,1328.5 491.6,1325.9 494.6,1323.2 497.6,1320.6 500.6,1317.9 503.6,1315.2 506.6,1312.6 509.6,1309.9 512.6,1307.2 515.5,1304.4 518.5,1301.7 521.4,1299 524.4,1296.3 527.3,1293.6 530.3,1290.8 533.2,1288.1 536.2,1285.4 539.2,1282.7 542.1,1280 545.1,1277.3 548.1,1274.6 551.1,1271.9 554.1,1269.3 557.1,1266.7 560.2,1264 563.2,1261.4 566.3,1258.8 569.3,1256.3 572.4,1253.7 575.5,1251.1 578.6,1248.6 581.7,1246.1 584.9,1243.6 588,1241 591.1,1238.5 594.3,1236 597.5,1233.6 600.6,1231.1 603.8,1228.6 607,1226.2 610.2,1223.7 613.4,1221.3 616.6,1218.9 619.8,1216.5 623,1214.1 626.2,1211.7 629.4,1209.3 632.6,1206.9 635.9,1204.5 639.1,1202.2 642.4,1199.8 645.6,1197.5 648.9,1195.1 652.2,1192.8 655.5,1190.5 658.7,1188.2 662,1185.9 665.3,1183.6 668.6,1181.3 671.9,1179 675.3,1176.8 678.6,1174.5 681.9,1172.2 685.2,1170 688.5,1167.7 691.9,1165.5 695.2,1163.2 698.5,1160.9 701.8,1158.7 705.1,1156.4 708.5,1154.1 711.8,1151.8 715.1,1149.6 718.4,1147.3 721.7,1145 725.1,1142.7 728.4,1140.5 731.8,1138.3 735.1,1136.1 738.5,1133.9 741.9,1131.8 745.3,1129.7 748.8,1127.6 752.2,1125.6 755.7,1123.7 759.2,1121.7 762.7,1119.9 766.3,1118 769.9,1116.3 773.5,1114.6 777.2,1112.9 780.9,1111.3 784.6,1109.8 788.3,1108.3 792.1,1106.9 795.9,1105.6 799.7,1104.3 803.5,1103 807.3,1101.8 811.2,1100.7 815,1099.6 818.9,1098.6 822.8,1097.7 826.7,1096.8 830.7,1096 834.6,1095.3 838.5,1094.6 842.5,1094 846.5,1093.4 850.5,1092.9 854.5,1092.4 858.5,1092 862.5,1091.7 866.5,1091.5 870.5,1091.3 874.5,1091.1 878.5,1091 882.5,1091 886.5,1091.1 890.5,1091.2 894.5,1091.5 898.5,1091.8 902.5,1092.3 906.4,1092.9 910.4,1093.5 914.3,1094.2 918.2,1095 922.2,1095.9 926.1,1096.8 929.9,1097.8 933.8,1098.8 937.7,1099.9 941.5,1101.1 945.4,1102.3 949.2,1103.5 953,1104.7 956.8,1106 960.7,1107.3 964.5,1108.6 968.2,1109.9 972,1111.3 975.8,1112.7 979.6,1114.1 983.3,1115.5 987.1,1116.9 990.8,1118.3 994.6,1119.7 998.3,1121.2 1002.1,1122.6 1005.8,1124.1 1009.6,1125.5 1013.3,1127 1017,1128.5 1020.8,1129.9 1024.5,1131.4 1024.5,1131.4 1021.5,1134.2 1018.6,1136.9 1015.6,1139.6 1012.6,1142.3 1009.6,1145 1006.6,1147.6 1003.6,1150.3 1000.5,1152.9 997.4,1155.5 994.3,1158 991.2,1160.6 988.1,1163.1 985,1165.6 981.8,1168.1 978.6,1170.5 975.4,1172.9 972.2,1175.3 968.9,1177.6 965.6,1180 962.3,1182.2 959,1184.4 955.6,1186.6 952.2,1188.7 948.8,1190.8 945.3,1192.9 941.9,1194.9 938.4,1196.9 934.9,1198.9 931.3,1200.8 927.8,1202.7 924.2,1204.6 920.7,1206.5 917.1,1208.3 913.5,1210.1 909.9,1211.9 906.3,1213.6 902.7,1215.4 899,1217.1 895.4,1218.8 891.7,1220.4 888.1,1222.1 884.4,1223.7 880.7,1225.4 877.1,1227 873.4,1228.6 869.7,1230.3 866,1231.9 862.3,1233.5 858.6,1235.1 855,1236.7 851.3,1238.3 847.6,1239.8 843.9,1241.4 840.2,1243 836.5,1244.6 832.8,1246.1 829.1,1247.7 825.4,1249.2 821.6,1250.8 817.9,1252.3 814.2,1253.8 810.5,1255.3 806.8,1256.9 803,1258.4 799.3,1259.9 795.6,1261.4 791.9,1262.9 788.1,1264.4 784.4,1265.9 780.7,1267.4 777,1269 773.3,1270.5 769.6,1272.1 765.9,1273.6 762.2,1275.2 758.5,1276.8 754.8,1278.4 751.1,1280 747.4,1281.6 743.7,1283.3 740.1,1284.9 736.4,1286.5 732.7,1288.2 729.1,1289.9 725.4,1291.5 721.8,1293.2 718.1,1295 714.5,1296.7 710.9,1298.5 707.3,1300.3 703.7,1302.1 700.2,1303.9 696.6,1305.8 693.1,1307.7 689.6,1309.6 686.1,1311.6 682.7,1313.6 679.2,1315.7 675.8,1317.7 672.4,1319.8 668.9,1322 665.5,1324.1 662.1,1326.2 658.7,1328.4 655.3,1330.6 651.9,1332.7 648.5,1334.9 645.1,1337 641.7,1339.2 638.3,1341.3 634.9,1343.4 631.5,1345.5 628,1347.6 624.6,1349.7 621.1,1351.8 617.7,1353.8 614.2,1355.9 610.8,1357.9 607.3,1360 603.9,1362 600.4,1364.1 596.9,1366.1 593.5,1368.1 590,1370.2 586.5,1372.2 583,1374.2 579.5,1376.1 576,1378.1 572.5,1380.1 569,1382 565.5,1383.9 562,1385.8 558.4,1387.7 554.9,1389.6 551.3,1391.5 547.7,1393.3 544.2,1395.1 540.6,1397 537,1398.8 533.4,1400.6 529.8,1402.4 526.2,1404.2 522.6,1406 519,1407.8 515.4,1409.6 511.8,1411.4 508.2,1413.2 504.6,1415 501.1,1416.8 497.5,1418.6 493.9,1420.4 490.3,1422.3 486.7,1424.1 483.1,1425.9 479.5,1427.7 476,1429.5 472.4,1431.3 468.8,1433.2 465.2,1435 461.6,1436.8 458.1,1438.7 454.5,1440.5 450.9,1442.4 447.4,1444.3 443.8,1446.2 440.3,1448.1 436.8,1450 433.3,1452 429.8,1453.9 426.2,1455.9 422.7,1457.8 419.2,1459.8 415.7,1461.8 412.3,1463.8 408.8,1465.9 405.3,1467.9 401.8,1470 398.4,1472 394.9,1474.1 391.5,1476.2 388.1,1478.4 384.7,1480.5 381.3,1482.7 378,1484.9 374.7,1487.1 371.4,1489.4 368.1,1491.7 364.8,1494 361.6,1496.3 358.4,1498.7 355.2,1501.1 352,1503.5 348.8,1505.9 345.6,1508.4 342.5,1510.9 339.4,1513.4 336.3,1516 333.2,1518.5 330.1,1521.1 327.1,1523.8 324,1526.4 321,1529.1 318,1531.8 315,1534.5 312,1537.2 309.1,1540 306.1,1542.8 303.2,1545.5" fill="none" stroke="#0000ff" stroke-width="8" stroke-linejoin="round" stroke-linecap="round"/>
<polyline points="301.7,1478.8 305.2,1476.8 308.7,1474.7 312.1,1472.7 315.6,1470.7 319.1,1468.6 322.5,1466.5 325.9,1464.4 329.3,1462.3 332.7,1460.1 336.1,1458 339.5,1455.8 342.8,1453.6 346.2,1451.4 349.5,1449.2 352.9,1447 356.2,1444.8 359.5,1442.5 362.8,1440.2 366.1,1437.9 369.4,1435.6 372.6,1433.3 375.8,1430.9 379.1,1428.5 382.2,1426.1 385.4,1423.6 388.6,1421.2 391.8,1418.8 395,1416.4 398.2,1414 401.5,1411.6 404.8,1409.3 408.1,1407 411.4,1404.7 414.7,1402.4 418,1400.2 421.3,1397.9 424.6,1395.6 427.8,1393.2 431.1,1390.9 434.3,1388.5 437.4,1386 440.6,1383.5 443.7,1381 446.8,1378.5 449.9,1376 453,1373.4 456,1370.8 459.1,1368.2 462.1,1365.6 465.2,1362.9 468.2,1360.3 471.2,1357.6 474.2,1355 477.2,1352.3 480.2,1349.6 483.2,1347 486.2,1344.3 489.2,1341.6 492.2,1338.9 495.2,1336.2 498.2,1333.6 501.1,1330.9 504.1,1328.2 507.1,1325.5 510.1,1322.8 513,1320.1 516,1317.3 518.9,1314.6 521.8,1311.9 524.8,1309.2 527.7,1306.4 530.6,1303.7 533.5,1300.9 536.5,1298.2 539.4,1295.4 542.3,1292.7 545.2,1289.9 548.2,1287.2 551.1,1284.4 554,1281.7 557,1278.9 559.9,1276.2 562.8,1273.5 565.8,1270.8 568.7,1268 571.7,1265.3 574.6,1262.5 577.5,1259.8 580.4,1257 583.4,1254.3 586.3,1251.5 589.2,1248.7 592.1,1246 595.1,1243.2 598,1240.5 600.9,1237.7 603.9,1235 606.8,1232.3 609.8,1229.6 612.8,1226.9 615.8,1224.3 618.8,1221.6 621.9,1219 624.9,1216.5 628,1213.9 631.1,1211.4 634.2,1208.9 637.4,1206.5 640.5,1204 643.7,1201.6 647,1199.2 650.2,1196.8 653.4,1194.5 656.7,1192.1 660,1189.8 663.3,1187.5 666.5,1185.2 669.8,1182.9 673.1,1180.6 676.5,1178.3 679.8,1176 683.1,1173.7 686.4,1171.5 689.7,1169.2 693,1166.9 696.3,1164.6 699.6,1162.3 702.9,1160 706.2,1157.7 709.5,1155.4 712.8,1153.2 716.1,1150.9 719.4,1148.6 722.7,1146.4 726,1144.1 729.3,1141.8 732.6,1139.6 736,1137.3 739.3,1135.1 742.6,1132.8 745.9,1130.6 749.3,1128.4 752.6,1126.1 756,1123.9 759.3,1121.7 762.6,1119.5 766,1117.3 769.4,1115.1 772.7,1112.9 776.1,1110.8 779.5,1108.6 782.9,1106.5 786.3,1104.3 789.7,1102.2 793.1,1100 796.5,1097.9 799.9,1095.7 803.2,1093.6 806.6,1091.4 810,1089.3 813.4,1087.1 816.7,1084.9 820.1,1082.7 823.4,1080.4 826.7,1078.1 830,1075.8 833.2,1073.4 836.4,1070.9 839.6,1068.5 842.9,1066.1 846.2,1063.8 849.5,1061.7 852.9,1059.8 856.5,1058 860.1,1056.3 863.7,1054.7 867.4,1053.1 871.2,1051.6 875,1050.2 878.8,1048.9 882.6,1047.5 886.4,1046.3 890.3,1045.1 894.1,1043.9 897.9,1042.8 901.8,1041.7 905.7,1040.7 909.6,1039.8 913.6,1038.9 917.5,1038 921.5,1037.2 925.4,1036.3 929.4,1035.5 933.3,1034.6 937.2,1033.7 941.1,1032.8 945,1031.8 948.9,1030.8 952.7,1029.6 956.4,1028.4 960.1,1027 963.8,1025.4 967.4,1023.6 971,1021.6 974.5,1019.7 978.1,1017.7 981.7,1015.9 985.3,1014.4 989,1013.1 992.8,1011.9 996.6,1010.9 1000.5,1010 1004.4,1009.2 1008.3,1008.5 1012.3,1007.8 1016.3,1007.3 1020.4,1006.9 1024.5,1006.6 1024.5,1006.6 1021.9,1009.7 1019.2,1012.7 1016.4,1015.7 1013.6,1018.5 1010.7,1021.2 1007.6,1023.8 1004.5,1026.2 1001.2,1028.6 997.9,1030.8 994.5,1033 991.1,1035.2 987.7,1037.4 984.2,1039.9 980.6,1042.4 977,1045 973.4,1047.4 969.9,1049.4 966.4,1050.9 963.2,1051.3 960.2,1050 957.4,1048.3 954.5,1048.6 951.7,1050.7 948.9,1053.7 946,1057.3 943.1,1060.8 940.2,1064.1 937.1,1066.9 934,1069.5 930.9,1072 927.7,1074.4 924.5,1076.9 921.3,1079.3 918.2,1081.8 915.2,1084.5 912.2,1087.2 909.4,1090 906.7,1093 904,1096 901.3,1099 898.6,1102 895.8,1104.9 893,1107.7 890.1,1110.5 887.2,1113.2 884.2,1115.9 881.2,1118.6 878.1,1121.2 875.1,1123.8 872,1126.4 868.8,1128.9 865.7,1131.4 862.5,1133.8 859.3,1136.2 856,1138.5 852.7,1140.8 849.4,1143 846,1145.2 842.7,1147.5 839.3,1149.6 835.9,1151.8 832.5,1154 829.2,1156.2 825.8,1158.5 822.5,1160.7 819.1,1162.9 815.7,1165.1 812.4,1167.2 809,1169.4 805.6,1171.6 802.3,1173.8 798.9,1176 795.6,1178.2 792.3,1180.5 789,1182.8 785.7,1185.1 782.4,1187.5 779.2,1189.9 776,1192.3 772.8,1194.7 769.6,1197.1 766.3,1199.5 763.1,1201.8 759.8,1204.1 756.5,1206.4 753.2,1208.7 749.9,1210.9 746.5,1213.2 743.2,1215.4 739.8,1217.6 736.5,1219.8 733.1,1222 729.7,1224.2 726.4,1226.4 723,1228.6 719.6,1230.8 716.3,1233 712.9,1235.2 709.6,1237.4 706.2,1239.6 702.9,1241.9 699.6,1244.1 696.3,1246.4 693,1248.7 689.7,1251 686.4,1253.3 683.1,1255.6 679.9,1258 676.6,1260.3 673.4,1262.7 670.1,1265.1 666.9,1267.5 663.6,1269.8 660.4,1272.2 657.2,1274.6 653.9,1276.9 650.7,1279.3 647.4,1281.7 644.2,1284 640.9,1286.3 637.6,1288.7 634.3,1291 631,1293.3 627.7,1295.5 624.4,1297.8 621.1,1300 617.7,1302.3 614.4,1304.5 611.1,1306.7 607.7,1308.9 604.3,1311.1 601,1313.3 597.6,1315.5 594.3,1317.7 590.9,1319.9 587.5,1322.1 584.2,1324.3 580.8,1326.5 577.4,1328.7 574.1,1330.9 570.7,1333.1 567.3,1335.3 564,1337.5 560.6,1339.7 557.3,1341.9 553.9,1344.1 550.6,1346.3 547.2,1348.6 543.9,1350.8 540.5,1353 537.2,1355.2 533.8,1357.4 530.5,1359.7 527.1,1361.9 523.8,1364.1 520.4,1366.3 517.1,1368.5 513.7,1370.7 510.4,1372.9 507,1375.1 503.6,1377.3 500.3,1379.5 496.9,1381.7 493.5,1383.8 490.1,1386 486.8,1388.2 483.4,1390.3 480,1392.5 476.6,1394.6 473.2,1396.8 469.8,1398.9 466.4,1401.1 463,1403.2 459.6,1405.4 456.2,1407.5 452.8,1409.7 449.4,1411.8 446,1413.9 442.6,1416.1 439.2,1418.2 435.8,1420.4 432.5,1422.5 429.1,1424.7 425.7,1426.8 422.3,1428.9 418.8,1431.1 415.4,1433.2 412,1435.3 408.6,1437.4 405.2,1439.6 401.8,1441.7 398.4,1443.8 395,1445.9 391.6,1448.1 388.2,1450.2 384.8,1452.4 381.4,1454.5 378,1456.7 374.6,1458.8 371.3,1461 367.9,1463.2 364.6,1465.4 361.2,1467.7 357.9,1469.9 354.5,1472.1 351.2,1474.3 347.9,1476.6 344.5,1478.8 341.2,1481.1 337.9,1483.4 334.6,1485.6 331.3,1487.9 328,1490.2 324.7,1492.5 321.4,1494.8 318.1,1497.1 314.8,1499.4 311.5,1501.7 308.3,1504 305,1506.4 301.7,1508.7" fill="none" stroke="#00ff00" stroke-width="8" stroke-linejoin="round" stroke-linecap="round"/>
<rect x="236" y="946" width="854.2" height="691" fill="none" stroke="#000" stroke-width="8"/>
<text transform="translate(213 1655) scale(1 1.045)" font-size="58" text-anchor="end">-0.05</text>
<text transform="translate(213 1539.83) scale(1 1.045)" font-size="58" text-anchor="end">0.00</text>
<text transform="translate(213 1424.67) scale(1 1.045)" font-size="58" text-anchor="end">0.05</text>
<text transform="translate(213 1309.5) scale(1 1.045)" font-size="58" text-anchor="end">0.10</text>
<text transform="translate(213 1194.33) scale(1 1.045)" font-size="58" text-anchor="end">0.15</text>
<text transform="translate(213 1079.17) scale(1 1.045)" font-size="58" text-anchor="end">0.20</text>
<text transform="translate(213 964) scale(1 1.045)" font-size="58" text-anchor="end">0.25</text>
<path d="M236 1637h-14M236 1521.8h-14M236 1406.7h-14M236 1291.5h-14M236 1176.3h-14M236 1061.2h-14M236 946h-14M236 1579.4h-7M236 1464.2h-7M236 1349.1h-7M236 1233.9h-7M236 1118.8h-7M236 1003.6h-7" stroke="#000" stroke-width="8" fill="none"/>
<text transform="translate(236 1706) scale(1 1.045)" font-size="58" text-anchor="middle">0.4</text>
<text transform="translate(367.42 1706) scale(1 1.045)" font-size="58" text-anchor="middle">0.6</text>
<text transform="translate(498.83 1706) scale(1 1.045)" font-size="58" text-anchor="middle">0.8</text>
<text transform="translate(630.25 1706) scale(1 1.045)" font-size="58" text-anchor="middle">1.0</text>
<text transform="translate(761.66 1706) scale(1 1.045)" font-size="58" text-anchor="middle">1.2</text>
<text transform="translate(893.08 1706) scale(1 1.045)" font-size="58" text-anchor="middle">1.4</text>
<text transform="translate(1024.49 1706) scale(1 1.045)" font-size="58" text-anchor="middle">1.6</text>
<path d="M236 1637v14M367.4 1637v14M498.8 1637v14M630.2 1637v14M761.7 1637v14M893.1 1637v14M1024.5 1637v14M301.7 1637v7M433.1 1637v7M564.5 1637v7M696 1637v7M827.4 1637v7M958.8 1637v7M1090.2 1637v7" stroke="#000" stroke-width="8" fill="none"/>
<line x1="240" y1="986" x2="356" y2="986" stroke="#000000" stroke-width="8" stroke-linecap="round"/>
<text transform="translate(371 1004) scale(1 1.03)" font-size="52">40 mV s<tspan font-size="33" dy="-21">&#8722;1</tspan></text>
<line x1="240" y1="1057.3" x2="356" y2="1057.3" stroke="#ff0000" stroke-width="8" stroke-linecap="round"/>
<text transform="translate(371 1075.3) scale(1 1.03)" font-size="52">60 mV s<tspan font-size="33" dy="-21">&#8722;1</tspan></text>
<line x1="240" y1="1128.7" x2="356" y2="1128.7" stroke="#0000ff" stroke-width="8" stroke-linecap="round"/>
<text transform="translate(371 1146.7) scale(1 1.03)" font-size="52">80 mV s<tspan font-size="33" dy="-21">&#8722;1</tspan></text>
<line x1="240" y1="1200" x2="356" y2="1200" stroke="#00ff00" stroke-width="8" stroke-linecap="round"/>
<text transform="translate(371 1218) scale(1 1.03)" font-size="52">100 mV s<tspan font-size="33" dy="-21">&#8722;1</tspan></text>
<text transform="translate(663 1772) scale(1 0.985)" font-size="59" text-anchor="middle">Voltage (V)</text>
<text transform="translate(83.5 1291.4) rotate(-90) scale(1 0.99)" font-size="58.4" text-anchor="middle">Current (A)</text>
<text transform="translate(657 1012)" font-size="58">(c)</text>
<text transform="translate(1075.3 1611) scale(1 1.02)" font-size="58" text-anchor="end">500<tspan dy="-13" font-weight="normal">°</tspan><tspan dy="13">C GF</tspan></text>
<polyline points="1503.2,1560.5 1506.2,1557.8 1509.1,1555.1 1512.1,1552.4 1515.1,1549.8 1518.1,1547.1 1521.1,1544.4 1524.1,1541.7 1527.1,1539 1530.1,1536.3 1533,1533.6 1536,1530.9 1539,1528.2 1542,1525.5 1544.9,1522.8 1547.9,1520.1 1550.9,1517.4 1553.8,1514.7 1556.8,1512 1559.7,1509.3 1562.7,1506.5 1565.6,1503.8 1568.6,1501.1 1571.5,1498.3 1574.5,1495.6 1577.4,1492.9 1580.3,1490.1 1583.3,1487.4 1586.2,1484.6 1589.1,1481.8 1592,1479.1 1594.9,1476.3 1597.8,1473.6 1600.7,1470.8 1603.7,1468 1606.6,1465.2 1609.5,1462.5 1612.4,1459.7 1615.3,1456.9 1618.2,1454.2 1621.1,1451.4 1624.1,1448.7 1627,1445.9 1629.9,1443.2 1632.8,1440.4 1635.8,1437.7 1638.7,1434.9 1641.6,1432.2 1644.6,1429.4 1647.5,1426.7 1650.4,1423.9 1653.4,1421.2 1656.3,1418.4 1659.2,1415.7 1662.2,1412.9 1665.1,1410.2 1668.1,1407.5 1671,1404.7 1674,1402 1676.9,1399.3 1679.9,1396.6 1682.9,1393.9 1685.9,1391.2 1688.8,1388.6 1691.9,1385.9 1694.9,1383.2 1697.9,1380.6 1700.9,1378 1703.9,1375.3 1707,1372.7 1710,1370.1 1713.1,1367.5 1716.2,1364.9 1719.2,1362.3 1722.3,1359.7 1725.4,1357.1 1728.5,1354.5 1731.6,1352 1734.7,1349.4 1737.8,1346.9 1741,1344.4 1744.1,1341.9 1747.3,1339.4 1750.5,1336.9 1753.6,1334.5 1756.8,1332.1 1760.1,1329.7 1763.3,1327.3 1766.5,1325 1769.8,1322.7 1773.1,1320.3 1776.4,1318 1779.7,1315.7 1783,1313.5 1786.3,1311.2 1789.7,1309 1793,1306.8 1796.4,1304.6 1799.8,1302.4 1803.2,1300.2 1806.6,1298.1 1810,1296 1813.5,1293.9 1817,1291.9 1820.4,1289.9 1823.9,1287.9 1827.4,1285.9 1830.9,1283.9 1834.5,1282 1838.1,1280.1 1841.7,1278.3 1845.3,1276.5 1848.9,1274.9 1852.6,1273.4 1856.4,1272 1860.1,1270.9 1864,1269.9 1867.9,1269 1871.8,1268.4 1875.7,1267.8 1879.7,1267.5 1883.7,1267.3 1887.7,1267.2 1891.7,1267.4 1895.7,1267.7 1899.6,1268.1 1903.6,1268.7 1907.5,1269.5 1911.5,1270.4 1915.3,1271.4 1919.2,1272.5 1923,1273.7 1926.7,1275 1930.4,1276.5 1934.1,1278.1 1937.7,1279.7 1941.3,1281.5 1944.8,1283.4 1948.3,1285.4 1951.8,1287.4 1955.3,1289.5 1958.7,1291.5 1962.2,1293.6 1965.7,1295.6 1969.2,1297.6 1972.7,1299.6 1976.2,1301.6 1979.7,1303.6 1983.2,1305.5 1986.7,1307.5 1990.3,1309.3 1993.8,1311.2 1997.4,1313 2001,1314.8 2004.6,1316.6 2008.2,1318.3 2011.9,1320 2015.6,1321.6 2019.2,1323.2 2023,1324.7 2026.7,1326.2 2030.4,1327.7 2034.2,1329 2038,1330.3 2041.8,1331.5 2045.7,1332.7 2049.5,1333.8 2053.4,1334.7 2057.3,1335.6 2061.2,1336.4 2065.2,1337.2 2069.1,1337.8 2073.1,1338.4 2077.1,1339 2081.1,1339.4 2085.1,1339.8 2089.1,1340.1 2093.1,1340.3 2097.1,1340.5 2101.1,1340.5 2105.1,1340.5 2109.1,1340.5 2113.1,1340.3 2117.2,1340.2 2121.2,1340 2125.2,1339.8 2129.2,1339.5 2133.2,1339.2 2137.2,1338.8 2141.1,1338.3 2145.1,1337.8 2149.1,1337.2 2153.1,1336.6 2157,1335.9 2161,1335.2 2165,1334.5 2168.9,1333.8 2172.9,1333 2176.8,1332.2 2180.7,1331.3 2184.6,1330.3 2188.4,1329.3 2192.2,1328.1 2196,1326.9 2199.8,1325.5 2203.5,1324.1 2207.2,1322.5 2210.8,1320.9 2214.5,1319.1 2218.1,1317.3 2221.7,1315.5 2225.3,1313.6 2225.3,1313.6 2222.1,1316 2218.9,1318.4 2215.7,1320.8 2212.4,1323.1 2209.1,1325.4 2205.8,1327.7 2202.4,1329.9 2199,1332 2195.6,1334.1 2192.1,1336.1 2188.6,1338.1 2185.1,1340 2181.5,1341.8 2177.9,1343.6 2174.3,1345.3 2170.6,1347 2167,1348.8 2163.4,1350.5 2159.7,1352.2 2156.1,1353.9 2152.5,1355.7 2148.9,1357.5 2145.3,1359.3 2141.7,1361.1 2138.1,1362.9 2134.5,1364.7 2130.9,1366.4 2127.3,1368.1 2123.6,1369.8 2119.9,1371.5 2116.3,1373.1 2112.6,1374.7 2108.9,1376.2 2105.2,1377.8 2101.4,1379.3 2097.7,1380.8 2093.9,1382.2 2090.2,1383.6 2086.4,1385 2082.6,1386.3 2078.8,1387.6 2075,1388.9 2071.2,1390.1 2067.3,1391.3 2063.5,1392.5 2059.6,1393.6 2055.8,1394.7 2051.9,1395.8 2048,1396.9 2044.1,1398 2040.2,1399 2036.4,1400 2032.5,1401 2028.6,1401.9 2024.6,1402.9 2020.7,1403.8 2016.8,1404.7 2012.9,1405.6 2008.9,1406.4 2005,1407.2 2001.1,1408 1997.1,1408.7 1993.2,1409.4 1989.2,1410 1985.2,1410.6 1981.3,1411.2 1977.3,1411.7 1973.3,1412.3 1969.3,1412.8 1965.3,1413.3 1961.3,1413.7 1957.3,1414.2 1953.3,1414.7 1949.3,1415.2 1945.3,1415.7 1941.4,1416.2 1937.4,1416.7 1933.4,1417.2 1929.4,1417.7 1925.4,1418.2 1921.4,1418.7 1917.4,1419.2 1913.4,1419.8 1909.5,1420.3 1905.5,1420.9 1901.5,1421.4 1897.5,1422 1893.5,1422.6 1889.6,1423.3 1885.6,1423.9 1881.6,1424.5 1877.7,1425.2 1873.7,1425.9 1869.8,1426.6 1865.8,1427.3 1861.9,1428 1857.9,1428.8 1854,1429.6 1850,1430.4 1846.1,1431.2 1842.2,1432 1838.2,1432.9 1834.3,1433.7 1830.4,1434.5 1826.4,1435.4 1822.5,1436.2 1818.5,1437 1814.6,1437.9 1810.7,1438.7 1806.7,1439.5 1802.8,1440.3 1798.9,1441.2 1794.9,1442 1791,1442.9 1787.1,1443.7 1783.2,1444.6 1779.2,1445.6 1775.3,1446.5 1771.4,1447.5 1767.6,1448.4 1763.7,1449.5 1759.8,1450.5 1755.9,1451.6 1752.1,1452.7 1748.2,1453.8 1744.4,1455 1740.5,1456.2 1736.7,1457.4 1732.8,1458.6 1729,1459.9 1725.2,1461.2 1721.4,1462.5 1717.6,1463.9 1713.8,1465.2 1710,1466.6 1706.3,1468 1702.5,1469.4 1698.8,1470.9 1695.1,1472.4 1691.3,1473.9 1687.6,1475.4 1683.9,1477 1680.3,1478.6 1676.6,1480.2 1672.9,1481.9 1669.2,1483.5 1665.6,1485.3 1662,1487 1658.3,1488.7 1654.7,1490.5 1651.1,1492.3 1647.5,1494.1 1644,1496 1640.4,1497.8 1636.8,1499.7 1633.3,1501.6 1629.8,1503.5 1626.3,1505.5 1622.8,1507.4 1619.3,1509.4 1615.8,1511.4 1612.4,1513.5 1608.9,1515.6 1605.5,1517.6 1602,1519.8 1598.6,1521.9 1595.2,1524 1591.8,1526.2 1588.4,1528.4 1585,1530.6 1581.7,1532.8 1578.3,1535 1575,1537.2 1571.6,1539.4 1568.3,1541.6 1564.9,1543.9 1561.6,1546.1 1558.3,1548.4 1555,1550.7 1551.7,1553 1548.4,1555.3 1545.1,1557.6 1541.8,1559.9 1538.6,1562.2 1535.3,1564.6 1532.1,1567 1528.8,1569.3 1525.6,1571.7 1522.4,1574.1 1519.1,1576.6 1515.9,1579 1512.7,1581.4 1509.5,1583.9 1506.3,1586.3 1503.2,1588.8" fill="none" stroke="#000000" stroke-width="8" stroke-linejoin="round" stroke-linecap="round"/>
<polyline points="1503.2,1532.7 1506,1529.9 1508.9,1527.1 1511.8,1524.3 1514.6,1521.5 1517.5,1518.7 1520.4,1515.9 1523.3,1513.1 1526.1,1510.3 1529,1507.5 1531.9,1504.8 1534.8,1502 1537.7,1499.2 1540.6,1496.4 1543.4,1493.6 1546.3,1490.8 1549.2,1488 1552.1,1485.3 1555,1482.5 1557.9,1479.7 1560.8,1476.9 1563.7,1474.2 1566.6,1471.4 1569.5,1468.6 1572.4,1465.9 1575.3,1463.1 1578.2,1460.3 1581.1,1457.5 1584,1454.8 1586.9,1452 1589.8,1449.2 1592.7,1446.5 1595.6,1443.7 1598.6,1440.9 1601.5,1438.2 1604.4,1435.4 1607.3,1432.7 1610.2,1429.9 1613.2,1427.2 1616.1,1424.5 1619,1421.7 1622,1419 1624.9,1416.3 1627.9,1413.6 1630.9,1410.9 1633.8,1408.2 1636.8,1405.5 1639.8,1402.8 1642.8,1400.1 1645.8,1397.5 1648.8,1394.8 1651.8,1392.1 1654.8,1389.5 1657.8,1386.8 1660.8,1384.2 1663.8,1381.5 1666.8,1378.9 1669.9,1376.3 1672.9,1373.6 1675.9,1371 1679,1368.4 1682.1,1365.8 1685.1,1363.2 1688.2,1360.7 1691.3,1358.1 1694.4,1355.5 1697.4,1353 1700.5,1350.4 1703.6,1347.9 1706.8,1345.4 1709.9,1342.8 1713,1340.3 1716.1,1337.8 1719.3,1335.3 1722.4,1332.8 1725.6,1330.4 1728.7,1327.9 1731.9,1325.4 1735.1,1323 1738.3,1320.5 1741.5,1318.1 1744.7,1315.7 1747.9,1313.2 1751.1,1310.8 1754.3,1308.4 1757.5,1306.1 1760.8,1303.7 1764,1301.3 1767.3,1299 1770.5,1296.6 1773.8,1294.3 1777,1292 1780.3,1289.7 1783.6,1287.4 1786.9,1285.1 1790.2,1282.8 1793.5,1280.5 1796.8,1278.2 1800.2,1276 1803.5,1273.8 1806.8,1271.5 1810.2,1269.3 1813.6,1267.2 1816.9,1265 1820.3,1262.8 1823.7,1260.7 1827.1,1258.6 1830.5,1256.4 1834,1254.3 1837.4,1252.1 1840.8,1250 1844.3,1247.9 1847.8,1245.8 1851.3,1243.7 1854.8,1241.7 1858.3,1239.9 1861.9,1238.1 1865.5,1236.4 1869.2,1234.9 1872.9,1233.6 1876.6,1232.4 1880.5,1231.3 1884.3,1230.4 1888.2,1229.6 1892.2,1228.9 1896.1,1228.4 1900.1,1227.9 1904.1,1227.6 1908.1,1227.3 1912.1,1227.1 1916.1,1227 1920.1,1227 1924.1,1227.1 1928.1,1227.4 1932,1227.9 1936,1228.4 1939.9,1229.2 1943.9,1230.1 1947.7,1231.1 1951.6,1232.2 1955.4,1233.4 1959.2,1234.8 1962.9,1236.2 1966.6,1237.7 1970.2,1239.4 1973.8,1241.1 1977.3,1243 1980.8,1244.9 1984.3,1247 1987.7,1249 1991.2,1251.1 1994.6,1253.2 1998.1,1255.4 2001.5,1257.5 2004.9,1259.6 2008.4,1261.7 2011.8,1263.8 2015.2,1265.9 2018.6,1268 2022,1270.1 2025.4,1272.2 2028.9,1274.3 2032.3,1276.4 2035.8,1278.5 2039.2,1280.5 2042.7,1282.4 2046.3,1284.3 2049.9,1286 2053.5,1287.7 2057.1,1289.2 2060.9,1290.6 2064.6,1292 2068.4,1293.3 2072.3,1294.4 2076.1,1295.6 2080,1296.6 2083.9,1297.6 2087.8,1298.5 2091.8,1299.4 2095.7,1300.2 2099.6,1301 2103.6,1301.7 2107.5,1302.4 2111.5,1303 2115.5,1303.6 2119.5,1304 2123.5,1304.4 2127.5,1304.7 2131.5,1304.9 2135.5,1305.1 2139.5,1305.1 2143.5,1305.1 2147.5,1305 2151.5,1304.8 2155.5,1304.6 2159.5,1304.3 2163.5,1303.9 2167.4,1303.5 2171.4,1302.9 2175.4,1302.3 2179.3,1301.6 2183.2,1300.8 2187.1,1299.9 2191,1299 2194.9,1298 2198.8,1296.9 2202.6,1295.8 2206.4,1294.6 2210.2,1293.3 2214,1292 2217.8,1290.6 2221.6,1289.2 2225.3,1287.7 2225.3,1287.7 2222.1,1290 2218.8,1292.4 2215.5,1294.6 2212.2,1296.9 2208.8,1299.2 2205.5,1301.4 2202.1,1303.6 2198.7,1305.7 2195.3,1307.9 2191.9,1310 2188.5,1312.1 2185,1314.1 2181.6,1316.1 2178.1,1318.2 2174.6,1320.2 2171.1,1322.1 2167.6,1324.1 2164.1,1326 2160.6,1328 2157,1329.9 2153.5,1331.8 2149.9,1333.7 2146.4,1335.6 2142.8,1337.4 2139.2,1339.2 2135.6,1341 2132,1342.8 2128.4,1344.5 2124.8,1346.3 2121.2,1348 2117.5,1349.7 2113.9,1351.3 2110.2,1353 2106.5,1354.6 2102.8,1356.2 2099.1,1357.7 2095.4,1359.2 2091.7,1360.7 2087.9,1362.2 2084.2,1363.6 2080.4,1365 2076.6,1366.4 2072.9,1367.8 2069.1,1369.1 2065.3,1370.5 2061.5,1371.9 2057.7,1373.2 2054,1374.6 2050.2,1376 2046.4,1377.3 2042.6,1378.7 2038.8,1379.9 2035,1381.2 2031.2,1382.4 2027.3,1383.6 2023.5,1384.7 2019.6,1385.8 2015.7,1386.8 2011.8,1387.8 2007.9,1388.8 2004,1389.7 2000.1,1390.7 1996.2,1391.6 1992.3,1392.5 1988.4,1393.3 1984.4,1394.2 1980.5,1395 1976.6,1395.8 1972.6,1396.6 1968.7,1397.4 1964.8,1398.1 1960.8,1398.9 1956.8,1399.6 1952.9,1400.2 1948.9,1400.9 1945,1401.6 1941,1402.2 1937,1402.8 1933.1,1403.5 1929.1,1404.1 1925.1,1404.7 1921.1,1405.3 1917.2,1406 1913.2,1406.6 1909.3,1407.3 1905.3,1408 1901.4,1408.7 1897.4,1409.4 1893.5,1410.2 1889.5,1411 1885.6,1411.8 1881.7,1412.7 1877.8,1413.5 1873.8,1414.4 1869.9,1415.3 1866,1416.2 1862.1,1417.2 1858.2,1418.1 1854.3,1419 1850.4,1420 1846.5,1420.9 1842.6,1421.9 1838.7,1422.8 1834.7,1423.7 1830.8,1424.6 1826.9,1425.5 1823,1426.4 1819.1,1427.3 1815.2,1428.2 1811.2,1429.1 1807.3,1430 1803.4,1430.9 1799.5,1431.8 1795.6,1432.7 1791.6,1433.6 1787.7,1434.5 1783.8,1435.4 1779.9,1436.4 1776,1437.3 1772.1,1438.3 1768.3,1439.3 1764.4,1440.4 1760.5,1441.4 1756.6,1442.5 1752.8,1443.6 1748.9,1444.7 1745,1445.8 1741.2,1446.9 1737.3,1448.1 1733.5,1449.3 1729.6,1450.5 1725.8,1451.7 1722,1452.9 1718.2,1454.2 1714.4,1455.5 1710.6,1456.8 1706.8,1458.1 1703,1459.4 1699.2,1460.8 1695.5,1462.2 1691.7,1463.6 1687.9,1465 1684.2,1466.5 1680.5,1468 1676.7,1469.5 1673,1471 1669.3,1472.5 1665.6,1474.1 1661.9,1475.7 1658.2,1477.3 1654.5,1479 1650.9,1480.6 1647.2,1482.3 1643.6,1484 1640,1485.7 1636.4,1487.5 1632.8,1489.2 1629.2,1491 1625.6,1492.9 1622,1494.7 1618.5,1496.6 1615,1498.5 1611.4,1500.4 1607.9,1502.4 1604.4,1504.3 1600.9,1506.3 1597.4,1508.3 1594,1510.4 1590.5,1512.4 1587,1514.5 1583.6,1516.5 1580.1,1518.6 1576.7,1520.7 1573.3,1522.8 1569.9,1524.9 1566.4,1527 1563,1529.1 1559.6,1531.3 1556.3,1533.4 1552.9,1535.6 1549.5,1537.8 1546.1,1540 1542.8,1542.2 1539.4,1544.4 1536.1,1546.6 1532.8,1548.9 1529.5,1551.2 1526.1,1553.4 1522.8,1555.7 1519.5,1558 1516.3,1560.3 1513,1562.7 1509.7,1565 1506.4,1567.4 1503.2,1569.7" fill="none" stroke="#ff0000" stroke-width="8" stroke-linejoin="round" stroke-linecap="round"/>
<polyline points="1503.2,1533.7 1506,1530.8 1508.8,1528 1511.7,1525.2 1514.5,1522.3 1517.4,1519.5 1520.2,1516.7 1523.1,1513.9 1525.9,1511 1528.8,1508.2 1531.7,1505.4 1534.5,1502.6 1537.4,1499.8 1540.3,1497 1543.1,1494.2 1546,1491.4 1548.9,1488.6 1551.8,1485.8 1554.6,1483 1557.5,1480.2 1560.4,1477.4 1563.3,1474.6 1566.2,1471.8 1569.1,1469.1 1572,1466.3 1574.9,1463.5 1577.8,1460.7 1580.7,1457.9 1583.6,1455.2 1586.5,1452.4 1589.4,1449.6 1592.3,1446.9 1595.2,1444.1 1598.1,1441.3 1601,1438.6 1603.9,1435.8 1606.9,1433.1 1609.8,1430.3 1612.7,1427.6 1615.7,1424.9 1618.6,1422.1 1621.6,1419.4 1624.5,1416.7 1627.5,1414 1630.4,1411.3 1633.4,1408.6 1636.4,1405.9 1639.3,1403.2 1642.3,1400.5 1645.3,1397.8 1648.3,1395.1 1651.3,1392.5 1654.3,1389.8 1657.3,1387.1 1660.3,1384.5 1663.3,1381.8 1666.3,1379.2 1669.3,1376.5 1672.4,1373.9 1675.4,1371.2 1678.4,1368.6 1681.5,1366 1684.5,1363.4 1687.6,1360.8 1690.7,1358.2 1693.7,1355.6 1696.8,1353.1 1699.9,1350.5 1703,1347.9 1706.1,1345.4 1709.2,1342.9 1712.3,1340.3 1715.4,1337.8 1718.6,1335.3 1721.7,1332.8 1724.9,1330.3 1728,1327.8 1731.2,1325.3 1734.3,1322.9 1737.5,1320.4 1740.7,1317.9 1743.8,1315.5 1747,1313 1750.2,1310.6 1753.4,1308.2 1756.6,1305.7 1759.8,1303.3 1763,1300.9 1766.2,1298.5 1769.4,1296 1772.6,1293.6 1775.8,1291.2 1779,1288.8 1782.2,1286.4 1785.4,1284 1788.7,1281.6 1791.9,1279.2 1795.1,1276.8 1798.4,1274.4 1801.6,1272 1804.9,1269.7 1808.1,1267.3 1811.4,1265 1814.7,1262.7 1818,1260.4 1821.3,1258.2 1824.6,1255.9 1827.9,1253.7 1831.3,1251.5 1834.6,1249.3 1838,1247.1 1841.4,1244.9 1844.8,1242.7 1848.2,1240.5 1851.6,1238.4 1855,1236.2 1858.4,1234.1 1861.9,1232 1865.3,1229.9 1868.8,1227.9 1872.3,1225.9 1875.8,1223.9 1879.3,1222 1882.9,1220.2 1886.4,1218.4 1890,1216.7 1893.7,1215 1897.3,1213.5 1901,1211.9 1904.7,1210.5 1908.5,1209.1 1912.3,1207.7 1916,1206.4 1919.9,1205.2 1923.7,1203.9 1927.5,1202.7 1931.4,1201.6 1935.2,1200.4 1939.1,1199.3 1943,1198.3 1946.9,1197.3 1950.8,1196.3 1954.7,1195.5 1958.6,1194.8 1962.6,1194.1 1966.5,1193.5 1970.5,1193 1974.5,1192.5 1978.5,1192.2 1982.5,1191.8 1986.5,1191.5 1990.5,1191.4 1994.5,1191.2 1998.5,1191.3 2002.5,1191.4 2006.4,1191.8 2010.3,1192.3 2014.2,1193.1 2018.1,1194 2021.9,1195.1 2025.8,1196.3 2029.6,1197.5 2033.4,1198.9 2037.1,1200.3 2040.9,1201.8 2044.6,1203.3 2048.2,1205 2051.8,1206.7 2055.3,1208.5 2058.8,1210.5 2062.2,1212.5 2065.6,1214.7 2068.9,1216.9 2072.2,1219.2 2075.5,1221.5 2078.8,1223.8 2082.1,1226.2 2085.4,1228.5 2088.7,1230.8 2092,1233 2095.4,1235.2 2098.8,1237.4 2102.2,1239.5 2105.7,1241.5 2109.2,1243.5 2112.7,1245.4 2116.3,1247.3 2119.9,1249 2123.5,1250.7 2127.2,1252.3 2130.9,1253.8 2134.6,1255.3 2138.4,1256.7 2142.2,1258 2146,1259.2 2149.9,1260.4 2153.7,1261.4 2157.6,1262.4 2161.5,1263.2 2165.4,1264 2169.4,1264.7 2173.3,1265.3 2177.3,1265.9 2181.3,1266.3 2185.3,1266.7 2189.3,1267.1 2193.3,1267.3 2197.3,1267.5 2201.3,1267.7 2205.3,1267.8 2209.3,1267.8 2213.3,1267.7 2217.3,1267.6 2221.3,1267.4 2225.3,1267.2 2225.3,1267.2 2222.2,1269.8 2219.1,1272.3 2215.9,1274.8 2212.7,1277.3 2209.5,1279.7 2206.3,1282.1 2203,1284.4 2199.7,1286.7 2196.4,1288.9 2193.1,1291.1 2189.7,1293.2 2186.2,1295.3 2182.8,1297.3 2179.3,1299.3 2175.8,1301.2 2172.3,1303.1 2168.7,1305 2165.2,1306.8 2161.6,1308.7 2158,1310.5 2154.5,1312.4 2150.9,1314.2 2147.3,1316 2143.7,1317.9 2140.2,1319.7 2136.6,1321.5 2133,1323.2 2129.4,1325 2125.7,1326.7 2122.1,1328.4 2118.5,1330.1 2114.8,1331.7 2111.2,1333.4 2107.5,1335 2103.8,1336.6 2100.1,1338.2 2096.4,1339.7 2092.7,1341.3 2089,1342.8 2085.3,1344.3 2081.5,1345.7 2077.8,1347.2 2074.1,1348.6 2070.3,1350.1 2066.6,1351.5 2062.8,1353 2059.1,1354.5 2055.4,1356 2051.7,1357.5 2048,1359.1 2044.3,1360.7 2040.6,1362.3 2036.9,1363.8 2033.2,1365.4 2029.5,1366.9 2025.8,1368.4 2022.1,1369.9 2018.3,1371.3 2014.5,1372.6 2010.7,1373.9 2006.9,1375.1 2003.1,1376.2 1999.2,1377.3 1995.4,1378.3 1991.5,1379.3 1987.6,1380.1 1983.6,1381 1979.7,1381.8 1975.8,1382.6 1971.8,1383.4 1967.9,1384.2 1964,1384.9 1960,1385.7 1956.1,1386.5 1952.1,1387.2 1948.2,1387.9 1944.2,1388.6 1940.3,1389.4 1936.3,1390.1 1932.4,1390.8 1928.4,1391.5 1924.5,1392.2 1920.5,1393 1916.6,1393.7 1912.6,1394.5 1908.7,1395.3 1904.8,1396.1 1900.9,1397 1897,1397.8 1893.1,1398.8 1889.2,1399.7 1885.3,1400.7 1881.4,1401.7 1877.6,1402.7 1873.7,1403.8 1869.8,1404.9 1866,1406 1862.1,1407.1 1858.3,1408.3 1854.4,1409.4 1850.6,1410.6 1846.7,1411.7 1842.9,1412.8 1839,1414 1835.2,1415.1 1831.3,1416.2 1827.4,1417.3 1823.6,1418.4 1819.7,1419.4 1815.8,1420.5 1812,1421.6 1808.1,1422.7 1804.2,1423.7 1800.4,1424.8 1796.5,1425.9 1792.6,1427 1788.8,1428.1 1784.9,1429.2 1781.1,1430.3 1777.2,1431.5 1773.4,1432.7 1769.6,1433.9 1765.8,1435.1 1762,1436.3 1758.2,1437.6 1754.4,1438.9 1750.6,1440.3 1746.8,1441.6 1743.1,1443 1739.3,1444.4 1735.5,1445.8 1731.8,1447.2 1728,1448.7 1724.3,1450.1 1720.6,1451.6 1716.8,1453.1 1713.1,1454.6 1709.4,1456 1705.6,1457.5 1701.9,1459 1698.2,1460.5 1694.5,1462 1690.7,1463.5 1687,1465 1683.3,1466.5 1679.6,1468 1675.8,1469.5 1672.1,1471.1 1668.4,1472.6 1664.7,1474.2 1661,1475.7 1657.3,1477.3 1653.6,1478.9 1650,1480.6 1646.3,1482.2 1642.7,1483.9 1639.1,1485.6 1635.5,1487.3 1631.9,1489.1 1628.3,1490.9 1624.7,1492.7 1621.2,1494.5 1617.6,1496.4 1614.1,1498.3 1610.6,1500.2 1607.1,1502.2 1603.6,1504.1 1600.1,1506.1 1596.6,1508.1 1593.1,1510.2 1589.6,1512.2 1586.2,1514.3 1582.8,1516.3 1579.3,1518.4 1575.9,1520.5 1572.5,1522.6 1569.1,1524.8 1565.7,1526.9 1562.3,1529.1 1559,1531.2 1555.6,1533.4 1552.3,1535.6 1548.9,1537.8 1545.6,1540 1542.3,1542.3 1539,1544.6 1535.7,1546.8 1532.4,1549.1 1529.1,1551.5 1525.8,1553.8 1522.6,1556.1 1519.3,1558.5 1516.1,1560.9 1512.8,1563.3 1509.6,1565.7 1506.4,1568.1 1503.2,1570.5" fill="none" stroke="#0000ff" stroke-width="8" stroke-linejoin="round" stroke-linecap="round"/>
<polyline points="1503.2,1515.3 1506,1512.5 1508.9,1509.7 1511.8,1506.9 1514.6,1504.1 1517.5,1501.3 1520.4,1498.5 1523.2,1495.7 1526.1,1492.8 1528.9,1490 1531.8,1487.2 1534.6,1484.3 1537.5,1481.5 1540.3,1478.7 1543.1,1475.8 1546,1473 1548.8,1470.2 1551.6,1467.3 1554.5,1464.5 1557.3,1461.6 1560.1,1458.8 1562.9,1455.9 1565.8,1453 1568.6,1450.2 1571.4,1447.3 1574.2,1444.4 1577,1441.6 1579.8,1438.7 1582.6,1435.8 1585.3,1432.9 1588.1,1430 1590.9,1427.1 1593.7,1424.2 1596.5,1421.3 1599.2,1418.4 1602,1415.5 1604.8,1412.6 1607.6,1409.7 1610.3,1406.8 1613.1,1403.9 1615.9,1401 1618.6,1398.1 1621.4,1395.2 1624.2,1392.3 1626.9,1389.4 1629.7,1386.5 1632.5,1383.6 1635.3,1380.7 1638.1,1377.8 1640.8,1374.9 1643.6,1371.9 1646.4,1369 1649.1,1366.1 1651.9,1363.2 1654.6,1360.3 1657.4,1357.4 1660.2,1354.5 1662.9,1351.5 1665.7,1348.6 1668.5,1345.7 1671.2,1342.8 1674,1339.9 1676.8,1337 1679.6,1334.1 1682.3,1331.2 1685.1,1328.3 1687.9,1325.5 1690.7,1322.6 1693.6,1319.7 1696.4,1316.9 1699.2,1314 1702.1,1311.2 1704.9,1308.4 1707.8,1305.6 1710.6,1302.7 1713.5,1299.9 1716.3,1297.1 1719.2,1294.3 1722.1,1291.5 1724.9,1288.7 1727.8,1285.9 1730.7,1283.1 1733.6,1280.3 1736.5,1277.5 1739.4,1274.7 1742.4,1272 1745.3,1269.2 1748.2,1266.5 1751.2,1263.8 1754.1,1261.1 1757.1,1258.4 1760.1,1255.7 1763.1,1253 1766.1,1250.4 1769.1,1247.7 1772.1,1245.1 1775.2,1242.5 1778.2,1239.9 1781.3,1237.3 1784.4,1234.8 1787.5,1232.2 1790.6,1229.7 1793.7,1227.2 1796.9,1224.6 1800,1222.1 1803.1,1219.6 1806.3,1217.1 1809.4,1214.6 1812.5,1212.1 1815.7,1209.6 1818.8,1207 1821.9,1204.5 1825,1202 1828.1,1199.4 1831.2,1196.9 1834.3,1194.3 1837.4,1191.8 1840.5,1189.2 1843.6,1186.6 1846.7,1184 1849.7,1181.4 1852.8,1178.9 1855.9,1176.3 1858.9,1173.7 1862,1171.1 1865.1,1168.5 1868.1,1165.9 1871.2,1163.3 1874.3,1160.7 1877.4,1158.2 1880.5,1155.6 1883.6,1153.1 1886.7,1150.5 1889.8,1148 1892.9,1145.4 1896,1142.9 1899.1,1140.3 1902.2,1137.6 1905.3,1134.9 1908.3,1132.1 1911.4,1129.3 1914.4,1126.4 1917.5,1123.7 1920.6,1120.9 1923.7,1118.3 1926.9,1115.9 1930.2,1113.6 1933.5,1111.5 1936.9,1109.6 1940.4,1108 1944,1106.7 1947.7,1105.5 1951.5,1104.3 1955.2,1102.8 1958.7,1101 1962,1098.8 1965.3,1096.5 1968.5,1094 1971.6,1091.5 1974.8,1088.9 1977.9,1086.3 1980.9,1083.7 1984.1,1081.1 1987.2,1078.6 1990.4,1076.2 1993.6,1073.9 1996.9,1071.8 2000.3,1069.7 2003.8,1067.8 2007.4,1065.9 2011,1064.2 2014.6,1062.4 2018.3,1060.7 2022,1059.1 2025.6,1057.5 2029.3,1055.8 2033,1054.1 2036.7,1052.5 2040.4,1050.8 2044.1,1049.1 2047.8,1047.5 2051.5,1046 2055.3,1044.6 2059,1043.3 2062.9,1042.2 2066.7,1041.2 2070.6,1040.4 2074.5,1039.6 2078.5,1038.9 2082.5,1038.3 2086.5,1037.8 2090.5,1037.5 2094.5,1037.3 2098.5,1037.2 2102.5,1037.2 2106.5,1037.4 2110.5,1037.7 2114.5,1038.3 2118.4,1039.2 2122.3,1040.3 2126.2,1041.5 2129.9,1042.9 2133.6,1044.4 2137.1,1046.1 2140.6,1048 2144,1050.2 2147.3,1052.5 2150.6,1054.9 2153.8,1057.3 2157.1,1059.8 2160.3,1062.2 2163.6,1064.6 2166.8,1067 2170.1,1069.4 2173.3,1071.8 2176.5,1074.2 2179.6,1076.7 2182.7,1079.2 2185.8,1081.8 2188.8,1084.4 2191.8,1087.1 2194.8,1089.7 2197.7,1092.5 2200.6,1095.2 2203.5,1098 2206.3,1100.9 2209.1,1103.7 2211.9,1106.6 2214.7,1109.6 2217.4,1112.6 2220.1,1115.6 2222.7,1118.6 2225.3,1121.7 2225.3,1121.7 2223.1,1125 2220.8,1128.3 2218.5,1131.6 2216.2,1134.9 2214,1138.3 2211.7,1141.6 2209.4,1144.9 2207.1,1148.2 2204.8,1151.5 2202.5,1154.8 2200.2,1158.1 2197.8,1161.3 2195.4,1164.5 2193,1167.7 2190.6,1170.9 2188.1,1174 2185.5,1177.1 2182.9,1180.2 2180.3,1183.2 2177.7,1186.2 2175,1189.2 2172.2,1192.1 2169.5,1195.1 2166.7,1198 2164,1200.9 2161.2,1203.8 2158.4,1206.8 2155.7,1209.7 2152.9,1212.6 2150.1,1215.5 2147.3,1218.4 2144.5,1221.3 2141.7,1224.1 2138.8,1226.9 2136,1229.7 2133,1232.5 2130.1,1235.2 2127.1,1237.9 2124.1,1240.5 2121.1,1243.1 2118,1245.7 2114.9,1248.3 2111.8,1250.8 2108.6,1253.3 2105.5,1255.8 2102.3,1258.3 2099.2,1260.8 2096,1263.2 2092.8,1265.7 2089.6,1268.1 2086.4,1270.5 2083.1,1272.9 2079.9,1275.3 2076.6,1277.7 2073.3,1280 2070.1,1282.3 2066.7,1284.6 2063.4,1286.8 2060,1289 2056.6,1291.1 2053.2,1293.2 2049.7,1295.2 2046.2,1297.1 2042.7,1299 2039.2,1300.9 2035.6,1302.7 2032,1304.5 2028.3,1306.2 2024.7,1307.9 2021,1309.5 2017.4,1311.1 2013.7,1312.7 2010,1314.3 2006.3,1315.8 2002.5,1317.3 1998.8,1318.8 1995.1,1320.3 1991.3,1321.8 1987.6,1323.2 1983.8,1324.7 1980.1,1326.1 1976.3,1327.5 1972.6,1328.9 1968.8,1330.3 1965,1331.7 1961.3,1333.1 1957.5,1334.5 1953.7,1335.9 1950,1337.3 1946.2,1338.7 1942.5,1340.1 1938.7,1341.5 1934.9,1342.9 1931.2,1344.3 1927.4,1345.7 1923.7,1347.2 1919.9,1348.6 1916.1,1350 1912.4,1351.4 1908.6,1352.8 1904.9,1354.3 1901.1,1355.7 1897.4,1357.1 1893.6,1358.6 1889.9,1360 1886.1,1361.5 1882.4,1362.9 1878.6,1364.4 1874.9,1365.8 1871.1,1367.3 1867.4,1368.7 1863.7,1370.2 1859.9,1371.7 1856.2,1373.2 1852.5,1374.7 1848.7,1376.2 1845,1377.7 1841.3,1379.2 1837.6,1380.7 1833.9,1382.3 1830.2,1383.9 1826.5,1385.4 1822.8,1387 1819.1,1388.6 1815.5,1390.2 1811.8,1391.8 1808.1,1393.5 1804.4,1395.1 1800.8,1396.8 1797.1,1398.4 1793.5,1400.1 1789.8,1401.8 1786.2,1403.5 1782.5,1405.2 1778.9,1406.9 1775.3,1408.6 1771.7,1410.3 1768,1412.1 1764.4,1413.8 1760.8,1415.6 1757.2,1417.4 1753.7,1419.2 1750.1,1421.1 1746.5,1422.9 1743,1424.8 1739.4,1426.6 1735.8,1428.5 1732.3,1430.4 1728.7,1432.2 1725.2,1434.1 1721.6,1436 1718.1,1437.8 1714.5,1439.7 1710.9,1441.5 1707.3,1443.3 1703.7,1445.1 1700.1,1446.8 1696.5,1448.5 1692.9,1450.2 1689.2,1451.9 1685.5,1453.6 1681.9,1455.2 1678.2,1456.9 1674.5,1458.5 1670.9,1460.1 1667.2,1461.7 1663.5,1463.4 1659.8,1465 1656.2,1466.6 1652.5,1468.3 1648.9,1470 1645.2,1471.7 1641.6,1473.4 1638,1475.2 1634.4,1477 1630.8,1478.8 1627.3,1480.6 1623.7,1482.5 1620.2,1484.4 1616.6,1486.3 1613.1,1488.2 1609.6,1490.2 1606.1,1492.2 1602.6,1494.1 1599.1,1496.2 1595.6,1498.2 1592.2,1500.3 1588.7,1502.3 1585.3,1504.4 1581.9,1506.6 1578.5,1508.7 1575.1,1510.9 1571.8,1513 1568.4,1515.2 1565.1,1517.5 1561.8,1519.7 1558.5,1522 1555.2,1524.3 1552,1526.6 1548.7,1529 1545.5,1531.3 1542.3,1533.7 1539.1,1536.1 1535.9,1538.6 1532.7,1541 1529.5,1543.5 1526.4,1546 1523.2,1548.5 1520.1,1551.1 1517,1553.6 1513.9,1556.2 1510.8,1558.8 1507.8,1561.5 1504.7,1564.1" fill="none" stroke="#00ff00" stroke-width="8" stroke-linejoin="round" stroke-linecap="round"/>
<rect x="1437.5" y="946" width="853.5" height="693" fill="none" stroke="#000" stroke-width="8"/>
<text transform="translate(1415 1657) scale(1 1.045)" font-size="58" text-anchor="end">-0.05</text>
<text transform="translate(1415 1580) scale(1 1.045)" font-size="58" text-anchor="end">0.00</text>
<text transform="translate(1415 1503) scale(1 1.045)" font-size="58" text-anchor="end">0.05</text>
<text transform="translate(1415 1426) scale(1 1.045)" font-size="58" text-anchor="end">0.10</text>
<text transform="translate(1415 1349) scale(1 1.045)" font-size="58" text-anchor="end">0.15</text>
<text transform="translate(1415 1272) scale(1 1.045)" font-size="58" text-anchor="end">0.20</text>
<text transform="translate(1415 1195) scale(1 1.045)" font-size="58" text-anchor="end">0.25</text>
<text transform="translate(1415 1118) scale(1 1.045)" font-size="58" text-anchor="end">0.30</text>
<text transform="translate(1415 1041) scale(1 1.045)" font-size="58" text-anchor="end">0.35</text>
<text transform="translate(1415 964) scale(1 1.045)" font-size="58" text-anchor="end">0.40</text>
<path d="M1437.5 1639h-14M1437.5 1562h-14M1437.5 1485h-14M1437.5 1408h-14M1437.5 1331h-14M1437.5 1254h-14M1437.5 1177h-14M1437.5 1100h-14M1437.5 1023h-14M1437.5 946h-14M1437.5 1600.5h-7M1437.5 1523.5h-7M1437.5 1446.5h-7M1437.5 1369.5h-7M1437.5 1292.5h-7M1437.5 1215.5h-7M1437.5 1138.5h-7M1437.5 1061.5h-7M1437.5 984.5h-7" stroke="#000" stroke-width="8" fill="none"/>
<text transform="translate(1437.5 1708) scale(1 1.045)" font-size="58" text-anchor="middle">0.4</text>
<text transform="translate(1568.81 1708) scale(1 1.045)" font-size="58" text-anchor="middle">0.6</text>
<text transform="translate(1700.12 1708) scale(1 1.045)" font-size="58" text-anchor="middle">0.8</text>
<text transform="translate(1831.42 1708) scale(1 1.045)" font-size="58" text-anchor="middle">1.0</text>
<text transform="translate(1962.73 1708) scale(1 1.045)" font-size="58" text-anchor="middle">1.2</text>
<text transform="translate(2094.04 1708) scale(1 1.045)" font-size="58" text-anchor="middle">1.4</text>
<text transform="translate(2225.35 1708) scale(1 1.045)" font-size="58" text-anchor="middle">1.6</text>
<path d="M1437.5 1639v14M1568.8 1639v14M1700.1 1639v14M1831.4 1639v14M1962.7 1639v14M2094 1639v14M2225.3 1639v14M1503.2 1639v7M1634.5 1639v7M1765.8 1639v7M1897.1 1639v7M2028.4 1639v7M2159.7 1639v7M2291 1639v7" stroke="#000" stroke-width="8" fill="none"/>
<line x1="1444.5" y1="987" x2="1558" y2="987" stroke="#000000" stroke-width="8" stroke-linecap="round"/>
<text transform="translate(1573.3 1005) scale(1 1.03)" font-size="52">40 mV s<tspan font-size="33" dy="-21">&#8722;1</tspan></text>
<line x1="1444.5" y1="1058.4" x2="1558" y2="1058.4" stroke="#ff0000" stroke-width="8" stroke-linecap="round"/>
<text transform="translate(1573.3 1076.4) scale(1 1.03)" font-size="52">60 mV s<tspan font-size="33" dy="-21">&#8722;1</tspan></text>
<line x1="1444.5" y1="1129.8" x2="1558" y2="1129.8" stroke="#0000ff" stroke-width="8" stroke-linecap="round"/>
<text transform="translate(1573.3 1147.8) scale(1 1.03)" font-size="52">80 mV s<tspan font-size="33" dy="-21">&#8722;1</tspan></text>
<line x1="1444.5" y1="1201" x2="1558" y2="1201" stroke="#00ff00" stroke-width="8" stroke-linecap="round"/>
<text transform="translate(1573.3 1219) scale(1 1.03)" font-size="52">100 mV s<tspan font-size="33" dy="-21">&#8722;1</tspan></text>
<text transform="translate(1865.7 1784.3) scale(1 0.985)" font-size="59.2" text-anchor="middle">Voltage (V)</text>
<text transform="translate(1275 1276.6) rotate(-90) scale(1 0.99)" font-size="58.6" text-anchor="middle">Current (A)</text>
<text transform="translate(1853 1012)" font-size="59">(d)</text>
<text transform="translate(2270.5 1611) scale(1 1.02)" font-size="58" text-anchor="end">600°C GF</text>
<polyline points="311.9,2366 555.5,2358 799,2344.6 1042.6,2375.2" fill="none" stroke="#000000" stroke-width="8" stroke-linejoin="round" stroke-linecap="butt"/>
<rect x="303.9" y="2358" width="16" height="16" fill="#000000"/>
<rect x="547.5" y="2350" width="16" height="16" fill="#000000"/>
<rect x="791" y="2336.6" width="16" height="16" fill="#000000"/>
<rect x="1034.6" y="2367.2" width="16" height="16" fill="#000000"/>
<line x1="259" y1="1905" x2="362" y2="1905" stroke="#000000" stroke-width="8" stroke-linecap="round"/>
<rect x="302.2" y="1897" width="16" height="16" fill="#000000"/>
<text transform="translate(375.5 1921.4) scale(1 1.03)" font-size="45">Pristine GF</text>
<polyline points="311.9,2256 555.5,2225.7 799,2237.8 1042.6,2263.6" fill="none" stroke="#ff0000" stroke-width="8" stroke-linejoin="round" stroke-linecap="butt"/>
<circle cx="311.9" cy="2256" r="8.8" fill="#ff0000"/>
<circle cx="555.5" cy="2225.7" r="8.8" fill="#ff0000"/>
<circle cx="799" cy="2237.8" r="8.8" fill="#ff0000"/>
<circle cx="1042.6" cy="2263.6" r="8.8" fill="#ff0000"/>
<line x1="259" y1="1967.8" x2="362" y2="1967.8" stroke="#ff0000" stroke-width="8" stroke-linecap="round"/>
<circle cx="310.2" cy="1967.8" r="8.8" fill="#ff0000"/>
<text transform="translate(375.5 1984.2) scale(1 1.03)" font-size="45">400<tspan font-size="31" dy="-18" font-weight="normal">o</tspan><tspan dy="18">C GF</tspan></text>
<polyline points="311.9,2233.8 555.5,2208.3 799,2208.3 1042.6,2142.6" fill="none" stroke="#0000ff" stroke-width="8" stroke-linejoin="round" stroke-linecap="butt"/>
<path d="M301.2 2240.2L322.6 2240.2L311.9 2221Z" fill="#0000ff"/>
<path d="M544.8 2214.7L566.2 2214.7L555.5 2195.5Z" fill="#0000ff"/>
<path d="M788.3 2214.7L809.7 2214.7L799 2195.5Z" fill="#0000ff"/>
<path d="M1031.9 2149L1053.3 2149L1042.6 2129.8Z" fill="#0000ff"/>
<line x1="259" y1="2030.4" x2="362" y2="2030.4" stroke="#0000ff" stroke-width="8" stroke-linecap="round"/>
<path d="M299.5 2036.8L320.9 2036.8L310.2 2017.6Z" fill="#0000ff"/>
<text transform="translate(375.5 2046.8) scale(1 1.03)" font-size="45">500<tspan font-size="31" dy="-18" font-weight="normal">o</tspan><tspan dy="18">C GF</tspan></text>
<polyline points="311.9,2197 555.5,2147 799,2108.7 1042.6,1954.4" fill="none" stroke="#00ff00" stroke-width="8" stroke-linejoin="round" stroke-linecap="butt"/>
<path d="M301.2 2190.6L322.6 2190.6L311.9 2209.8Z" fill="#00ff00"/>
<path d="M544.8 2140.6L566.2 2140.6L555.5 2159.8Z" fill="#00ff00"/>
<path d="M788.3 2102.3L809.7 2102.3L799 2121.5Z" fill="#00ff00"/>
<path d="M1031.9 1948L1053.3 1948L1042.6 1967.2Z" fill="#00ff00"/>
<line x1="259" y1="2093.2" x2="362" y2="2093.2" stroke="#00ff00" stroke-width="8" stroke-linecap="round"/>
<path d="M299.5 2086.8L320.9 2086.8L310.2 2106Z" fill="#00ff00"/>
<text transform="translate(375.5 2109.6) scale(1 1.03)" font-size="45">600<tspan font-size="31" dy="-18" font-weight="normal">o</tspan><tspan dy="18">C GF</tspan></text>
<rect x="251" y="1879" width="852.5" height="691" fill="none" stroke="#000" stroke-width="8"/>
<text transform="translate(226.5 2588) scale(1 1.045)" font-size="58" text-anchor="end">0.00</text>
<text transform="translate(226.5 2449.8) scale(1 1.045)" font-size="58" text-anchor="end">0.04</text>
<text transform="translate(226.5 2311.6) scale(1 1.045)" font-size="58" text-anchor="end">0.08</text>
<text transform="translate(226.5 2173.4) scale(1 1.045)" font-size="58" text-anchor="end">0.12</text>
<text transform="translate(226.5 2035.2) scale(1 1.045)" font-size="58" text-anchor="end">0.16</text>
<text transform="translate(226.5 1897) scale(1 1.045)" font-size="58" text-anchor="end">0.20</text>
<path d="M251 2570h-14M251 2431.8h-14M251 2293.6h-14M251 2155.4h-14M251 2017.2h-14M251 1879h-14M251 2500.9h-7M251 2362.7h-7M251 2224.5h-7M251 2086.3h-7M251 1948.1h-7" stroke="#000" stroke-width="8" fill="none"/>
<text transform="translate(311.89 2637.5) scale(1 1.045)" font-size="55" text-anchor="middle">0.04</text>
<text transform="translate(433.68 2637.5) scale(1 1.045)" font-size="55" text-anchor="middle">0.05</text>
<text transform="translate(555.46 2637.5) scale(1 1.045)" font-size="55" text-anchor="middle">0.06</text>
<text transform="translate(677.25 2637.5) scale(1 1.045)" font-size="55" text-anchor="middle">0.07</text>
<text transform="translate(799.04 2637.5) scale(1 1.045)" font-size="55" text-anchor="middle">0.08</text>
<text transform="translate(920.82 2637.5) scale(1 1.045)" font-size="55" text-anchor="middle">0.09</text>
<text transform="translate(1042.61 2637.5) scale(1 1.045)" font-size="55" text-anchor="middle">0.10</text>
<path d="M311.9 2570v14M433.7 2570v14M555.5 2570v14M677.3 2570v14M799 2570v14M920.8 2570v14M1042.6 2570v14M251 2570v7M372.8 2570v7M494.6 2570v7M616.4 2570v7M738.1 2570v7M859.9 2570v7M981.7 2570v7M1103.5 2570v7" stroke="#000" stroke-width="8" fill="none"/>
<text transform="translate(677.8 2713) scale(1 0.99)" font-size="58.6" text-anchor="middle">Scan rate (V s<tspan font-size="38" dy="-25">&#8722;1</tspan><tspan dy="25">)</tspan></text>
<text transform="translate(94.5 2226) rotate(-90) scale(1 0.99)" font-size="58.4" text-anchor="middle">Current (A)</text>
<text transform="translate(704 1944.6)" font-size="57.5">(e)</text>
<rect x="1481.5" y="2469.4" width="171.4" height="95.6" fill="#000000" stroke="#000" stroke-width="2.6"/>
<rect x="1696.2" y="2370.5" width="171.4" height="194.5" fill="#ff0000" stroke="#000" stroke-width="2.6"/>
<rect x="1910.5" y="2177.8" width="171.4" height="387.2" fill="#0000ff" stroke="#000" stroke-width="2.6"/>
<rect x="2124.7" y="1962.9" width="171.4" height="602.1" fill="#00ff00" stroke="#000" stroke-width="2.6"/>
<rect x="1460" y="1872" width="858" height="693" fill="none" stroke="#000" stroke-width="8"/>
<text transform="translate(1437 2583) scale(1 1.045)" font-size="58" text-anchor="end">0</text>
<text transform="translate(1437 2496.38) scale(1 1.045)" font-size="58" text-anchor="end">5</text>
<text transform="translate(1437 2409.75) scale(1 1.045)" font-size="58" text-anchor="end">10</text>
<text transform="translate(1437 2323.12) scale(1 1.045)" font-size="58" text-anchor="end">15</text>
<text transform="translate(1437 2236.5) scale(1 1.045)" font-size="58" text-anchor="end">20</text>
<text transform="translate(1437 2149.88) scale(1 1.045)" font-size="58" text-anchor="end">25</text>
<text transform="translate(1437 2063.25) scale(1 1.045)" font-size="58" text-anchor="end">30</text>
<text transform="translate(1437 1976.62) scale(1 1.045)" font-size="58" text-anchor="end">35</text>
<text transform="translate(1437 1890) scale(1 1.045)" font-size="58" text-anchor="end">40</text>
<path d="M1460 2565h-14M1460 2478.4h-14M1460 2391.8h-14M1460 2305.1h-14M1460 2218.5h-14M1460 2131.9h-14M1460 2045.2h-14M1460 1958.6h-14M1460 1872h-14M1460 2521.7h-7M1460 2435.1h-7M1460 2348.4h-7M1460 2261.8h-7M1460 2175.2h-7M1460 2088.6h-7M1460 2001.9h-7M1460 1915.3h-7" stroke="#000" stroke-width="8" fill="none"/>
<text transform="translate(1352.3 2219) rotate(-90)" font-size="58.8" text-anchor="middle">Specific capacitance (Fg<tspan font-size="40" dy="-25.5">&#8722;1</tspan><tspan dy="25.5">)</tspan></text>
<text transform="translate(1847 1930.3)" font-size="58.5">(f)</text>
<text transform="translate(1425.8 2619.9) scale(1 1.04)" font-size="48.1">Pristine GF</text>
<text transform="translate(1690 2625.7) scale(1 1.03)" font-size="49">400<tspan font-size="33" dy="-25.5">O</tspan><tspan dy="25.5" dx="2">GF</tspan></text>
<text transform="translate(1907.2 2627) scale(1 1.03)" font-size="49">500<tspan font-size="33" dy="-25.5">O</tspan><tspan dy="25.5" dx="15">GF</tspan></text>
<text transform="translate(2119 2625.7) scale(1 1.03)" font-size="49">600<tspan font-size="33" dy="-25.5">O</tspan><tspan dy="25.5" dx="16">GF</tspan></text>
</svg>
</body></html>
